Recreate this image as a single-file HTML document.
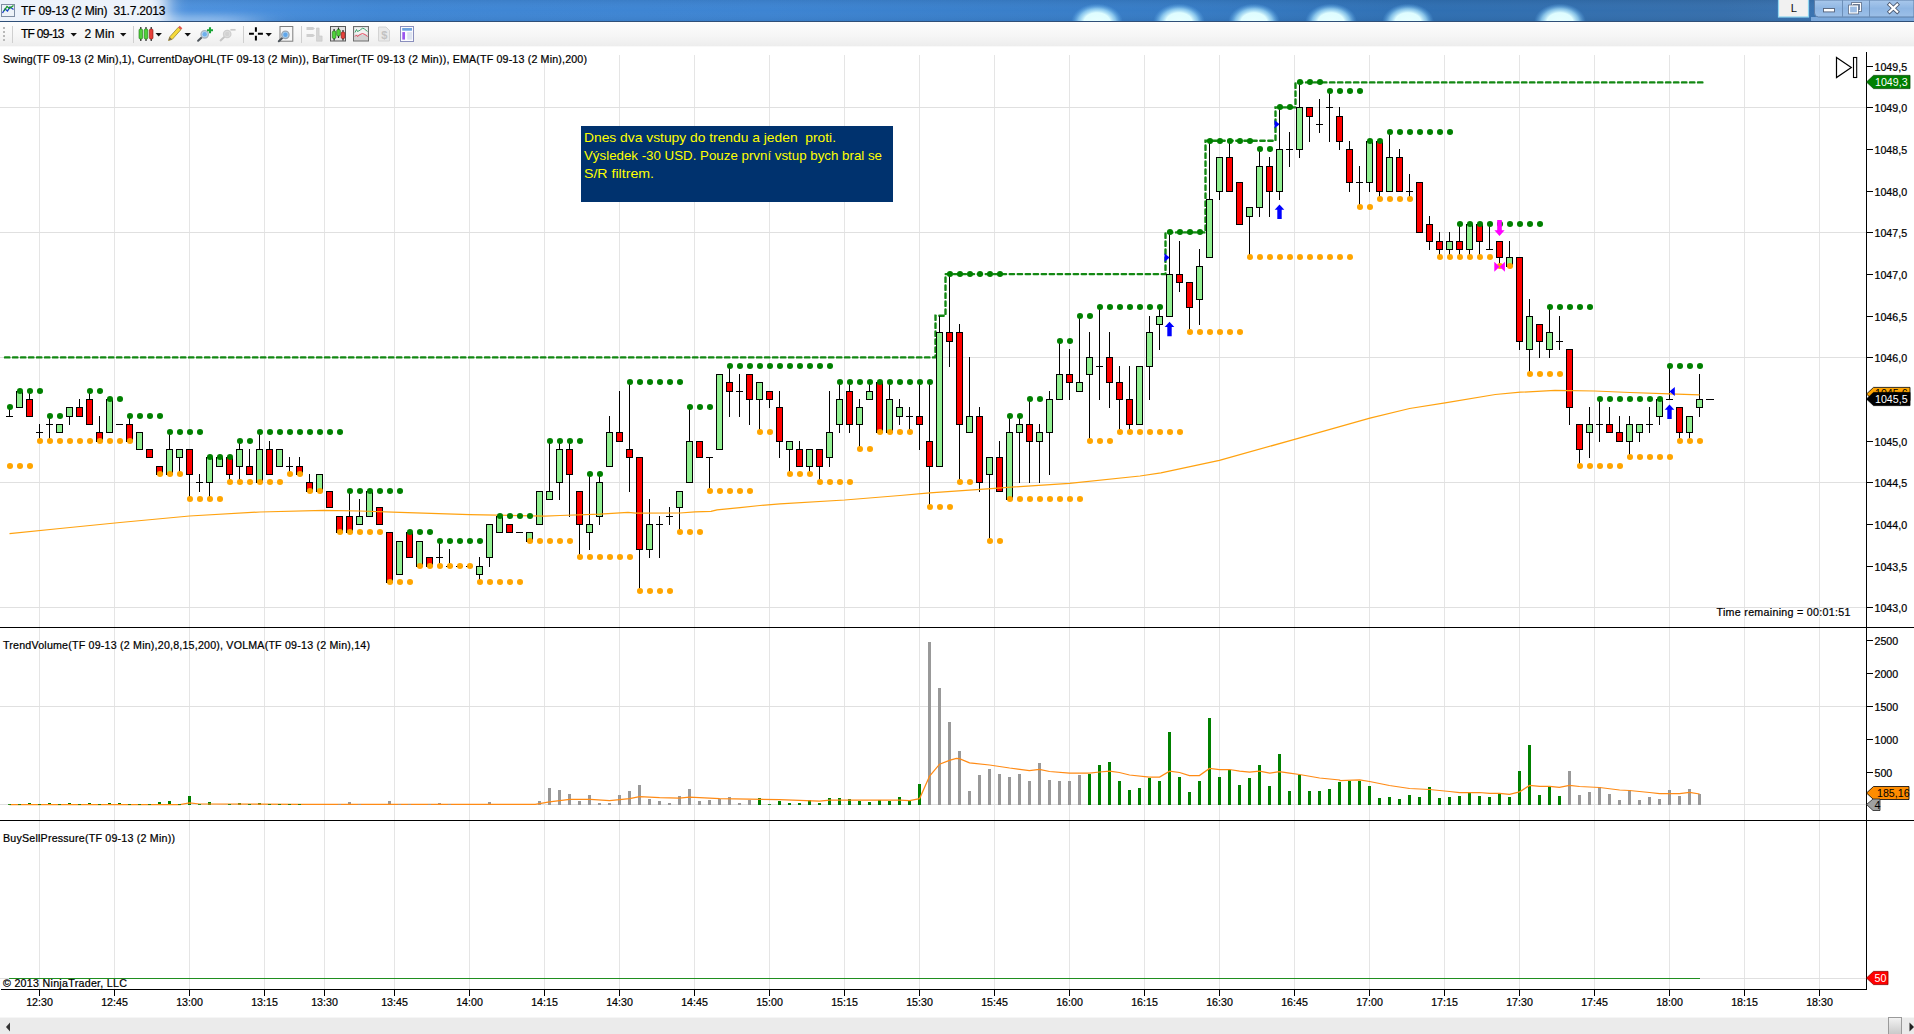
<!DOCTYPE html>
<html lang="cs"><head><meta charset="utf-8"><title>TF 09-13 (2 Min) 31.7.2013</title>
<style>
html,body{margin:0;padding:0;background:#fff;overflow:hidden}
body{width:1914px;height:1034px;position:relative;font-family:"Liberation Sans",Arial,sans-serif}
svg{display:block}
text{white-space:pre}
</style></head><body>
<svg width="1914" height="1034" viewBox="0 0 1914 1034" style="position:absolute;left:0;top:0">
<defs>
<linearGradient id="tb" x1="0" y1="0" x2="1" y2="0">
<stop offset="0" stop-color="#5a9be2"/><stop offset="0.12" stop-color="#4a8fdc"/><stop offset="0.2" stop-color="#4087d5"/><stop offset="0.40" stop-color="#3d84d2"/>
<stop offset="0.62" stop-color="#367bc4"/><stop offset="0.75" stop-color="#2f6fb2"/><stop offset="0.9" stop-color="#366fac"/><stop offset="1" stop-color="#3d77b5"/>
</linearGradient>
<filter id="blur" x="-50%" y="-100%" width="200%" height="300%"><feGaussianBlur stdDeviation="10 4"/></filter>
<filter id="blur2" x="-50%" y="-200%" width="200%" height="500%"><feGaussianBlur stdDeviation="22 3"/></filter>
<linearGradient id="tbv" x1="0" y1="0" x2="0" y2="1">
<stop offset="0" stop-color="#000" stop-opacity="0.06"/><stop offset="0.5" stop-color="#fff" stop-opacity="0.0"/><stop offset="1" stop-color="#000" stop-opacity="0.05"/>
</linearGradient>
<radialGradient id="glow" cx="0.5" cy="0.5" r="0.5">
<stop offset="0" stop-color="#e8ffff" stop-opacity="1"/><stop offset="0.5" stop-color="#dffdff" stop-opacity="1"/><stop offset="0.72" stop-color="#a8e2fc" stop-opacity="0.7"/><stop offset="1" stop-color="#5aa8ea" stop-opacity="0"/>
</radialGradient>
<linearGradient id="tool" x1="0" y1="0" x2="0" y2="1">
<stop offset="0" stop-color="#fdfdfd"/><stop offset="0.55" stop-color="#f6f6f6"/><stop offset="1" stop-color="#ececec"/>
</linearGradient>
<linearGradient id="btn" x1="0" y1="0" x2="0" y2="1">
<stop offset="0" stop-color="#a9c8ec"/><stop offset="0.5" stop-color="#8fb6e3"/><stop offset="1" stop-color="#9cc0e8"/>
</linearGradient>
<linearGradient id="sbt" x1="0" y1="0" x2="0" y2="1">
<stop offset="0" stop-color="#f4f4f4"/><stop offset="0.3" stop-color="#e6e6e6"/><stop offset="1" stop-color="#c9c9c9"/>
</linearGradient>
<clipPath id="tclip"><rect x="0" y="0" width="1914" height="21"/></clipPath>
</defs>
<rect x="0" y="0" width="1914" height="1034" fill="#fff"/>

<g shape-rendering="crispEdges" stroke="#e0e0e0" stroke-width="1">
<line x1="39.5" y1="55" x2="39.5" y2="989" stroke="#e5e5e5"/>
<line x1="114.5" y1="55" x2="114.5" y2="989" stroke="#e5e5e5"/>
<line x1="189.5" y1="55" x2="189.5" y2="989" stroke="#e5e5e5"/>
<line x1="264.5" y1="55" x2="264.5" y2="989" stroke="#e5e5e5"/>
<line x1="324.5" y1="55" x2="324.5" y2="989" stroke="#e5e5e5"/>
<line x1="394.5" y1="55" x2="394.5" y2="989" stroke="#e5e5e5"/>
<line x1="469.5" y1="55" x2="469.5" y2="989" stroke="#e5e5e5"/>
<line x1="544.5" y1="55" x2="544.5" y2="989" stroke="#e5e5e5"/>
<line x1="619.5" y1="55" x2="619.5" y2="989" stroke="#e5e5e5"/>
<line x1="694.5" y1="55" x2="694.5" y2="989" stroke="#e5e5e5"/>
<line x1="769.5" y1="55" x2="769.5" y2="989" stroke="#e5e5e5"/>
<line x1="844.5" y1="55" x2="844.5" y2="989" stroke="#e5e5e5"/>
<line x1="919.5" y1="55" x2="919.5" y2="989" stroke="#e5e5e5"/>
<line x1="994.5" y1="55" x2="994.5" y2="989" stroke="#e5e5e5"/>
<line x1="1069.5" y1="55" x2="1069.5" y2="989" stroke="#e5e5e5"/>
<line x1="1144.5" y1="55" x2="1144.5" y2="989" stroke="#e5e5e5"/>
<line x1="1219.5" y1="55" x2="1219.5" y2="989" stroke="#e5e5e5"/>
<line x1="1294.5" y1="55" x2="1294.5" y2="989" stroke="#e5e5e5"/>
<line x1="1369.5" y1="55" x2="1369.5" y2="989" stroke="#e5e5e5"/>
<line x1="1444.5" y1="55" x2="1444.5" y2="989" stroke="#e5e5e5"/>
<line x1="1519.5" y1="55" x2="1519.5" y2="989" stroke="#e5e5e5"/>
<line x1="1594.5" y1="55" x2="1594.5" y2="989" stroke="#e5e5e5"/>
<line x1="1669.5" y1="55" x2="1669.5" y2="989" stroke="#e5e5e5"/>
<line x1="1744.5" y1="55" x2="1744.5" y2="989" stroke="#e5e5e5"/>
<line x1="1819.5" y1="55" x2="1819.5" y2="989" stroke="#e5e5e5"/>
<line x1="0" y1="107.5" x2="1866" y2="107.5"/>
<line x1="0" y1="232.5" x2="1866" y2="232.5"/>
<line x1="0" y1="357.5" x2="1866" y2="357.5"/>
<line x1="0" y1="482.5" x2="1866" y2="482.5"/>
<line x1="0" y1="607.5" x2="1866" y2="607.5"/>
<line x1="0" y1="706.5" x2="1866" y2="706.5"/>
<line x1="0" y1="804.5" x2="1866" y2="804.5"/>
<line x1="0" y1="978.5" x2="1866" y2="978.5"/>
</g>
<path d="M5,357.4 L935.5,357.4 L935.5,315.7 L945.5,315.7 L945.5,274.1 L1165.5,274.1 L1165.5,232.4 L1205.5,232.4 L1205.5,140.7 L1275.5,140.7 L1275.5,107.4 L1295.5,107.4 L1295.5,82.4 L1705,82.4" fill="none" stroke="#138813" stroke-width="2.4" stroke-dasharray="4.4 3.6" stroke-linecap="round"/>
<g shape-rendering="crispEdges">
<rect x="9" y="407" width="1" height="10" fill="#000"/>
<rect x="6" y="416" width="7" height="1" fill="#000"/>
<rect x="19" y="391" width="1" height="17" fill="#000"/>
<rect x="16" y="391" width="7" height="17" fill="#000"/>
<rect x="17" y="392" width="5" height="15" fill="#90ee90"/>
<rect x="29" y="391" width="1" height="26" fill="#000"/>
<rect x="26" y="399" width="7" height="18" fill="#000"/>
<rect x="27" y="400" width="5" height="16" fill="#ff0000"/>
<rect x="39" y="424" width="1" height="18" fill="#000"/>
<rect x="36" y="432" width="7" height="1" fill="#000"/>
<rect x="49" y="416" width="1" height="26" fill="#000"/>
<rect x="46" y="424" width="7" height="1" fill="#000"/>
<rect x="59" y="424" width="1" height="9" fill="#000"/>
<rect x="56" y="424" width="7" height="9" fill="#000"/>
<rect x="57" y="425" width="5" height="7" fill="#90ee90"/>
<rect x="69" y="407" width="1" height="18" fill="#000"/>
<rect x="66" y="407" width="7" height="10" fill="#000"/>
<rect x="67" y="408" width="5" height="8" fill="#90ee90"/>
<rect x="79" y="399" width="1" height="18" fill="#000"/>
<rect x="76" y="407" width="7" height="10" fill="#000"/>
<rect x="77" y="408" width="5" height="8" fill="#ff0000"/>
<rect x="89" y="391" width="1" height="34" fill="#000"/>
<rect x="86" y="399" width="7" height="26" fill="#000"/>
<rect x="87" y="400" width="5" height="24" fill="#ff0000"/>
<rect x="99" y="416" width="1" height="26" fill="#000"/>
<rect x="96" y="432" width="7" height="10" fill="#000"/>
<rect x="97" y="433" width="5" height="8" fill="#ff0000"/>
<rect x="109" y="399" width="1" height="34" fill="#000"/>
<rect x="106" y="399" width="7" height="34" fill="#000"/>
<rect x="107" y="400" width="5" height="32" fill="#90ee90"/>
<rect x="116" y="424" width="7" height="1" fill="#000"/>
<rect x="129" y="416" width="1" height="26" fill="#000"/>
<rect x="126" y="424" width="7" height="18" fill="#000"/>
<rect x="127" y="425" width="5" height="16" fill="#ff0000"/>
<rect x="139" y="432" width="1" height="18" fill="#000"/>
<rect x="136" y="432" width="7" height="18" fill="#000"/>
<rect x="137" y="433" width="5" height="16" fill="#90ee90"/>
<rect x="149" y="449" width="1" height="9" fill="#000"/>
<rect x="146" y="449" width="7" height="9" fill="#000"/>
<rect x="147" y="450" width="5" height="7" fill="#ff0000"/>
<rect x="159" y="466" width="1" height="9" fill="#000"/>
<rect x="156" y="466" width="7" height="9" fill="#000"/>
<rect x="157" y="467" width="5" height="7" fill="#ff0000"/>
<rect x="169" y="432" width="1" height="43" fill="#000"/>
<rect x="166" y="449" width="7" height="26" fill="#000"/>
<rect x="167" y="450" width="5" height="24" fill="#90ee90"/>
<rect x="179" y="449" width="1" height="26" fill="#000"/>
<rect x="176" y="449" width="7" height="9" fill="#000"/>
<rect x="177" y="450" width="5" height="7" fill="#90ee90"/>
<rect x="189" y="449" width="1" height="51" fill="#000"/>
<rect x="186" y="449" width="7" height="26" fill="#000"/>
<rect x="187" y="450" width="5" height="24" fill="#ff0000"/>
<rect x="199" y="474" width="1" height="18" fill="#000"/>
<rect x="196" y="482" width="7" height="1" fill="#000"/>
<rect x="209" y="457" width="1" height="43" fill="#000"/>
<rect x="206" y="457" width="7" height="26" fill="#000"/>
<rect x="207" y="458" width="5" height="24" fill="#90ee90"/>
<rect x="219" y="457" width="1" height="10" fill="#000"/>
<rect x="216" y="457" width="7" height="10" fill="#000"/>
<rect x="217" y="458" width="5" height="8" fill="#90ee90"/>
<rect x="229" y="457" width="1" height="26" fill="#000"/>
<rect x="226" y="457" width="7" height="18" fill="#000"/>
<rect x="227" y="458" width="5" height="16" fill="#ff0000"/>
<rect x="239" y="441" width="1" height="42" fill="#000"/>
<rect x="236" y="449" width="7" height="18" fill="#000"/>
<rect x="237" y="450" width="5" height="16" fill="#90ee90"/>
<rect x="249" y="449" width="1" height="26" fill="#000"/>
<rect x="246" y="466" width="7" height="9" fill="#000"/>
<rect x="247" y="467" width="5" height="7" fill="#ff0000"/>
<rect x="259" y="432" width="1" height="51" fill="#000"/>
<rect x="256" y="449" width="7" height="34" fill="#000"/>
<rect x="257" y="450" width="5" height="32" fill="#90ee90"/>
<rect x="269" y="441" width="1" height="34" fill="#000"/>
<rect x="266" y="449" width="7" height="26" fill="#000"/>
<rect x="267" y="450" width="5" height="24" fill="#ff0000"/>
<rect x="279" y="449" width="1" height="18" fill="#000"/>
<rect x="276" y="449" width="7" height="18" fill="#000"/>
<rect x="277" y="450" width="5" height="16" fill="#90ee90"/>
<rect x="289" y="457" width="1" height="18" fill="#000"/>
<rect x="286" y="466" width="7" height="1" fill="#000"/>
<rect x="299" y="457" width="1" height="18" fill="#000"/>
<rect x="296" y="466" width="7" height="9" fill="#000"/>
<rect x="297" y="467" width="5" height="7" fill="#ff0000"/>
<rect x="309" y="474" width="1" height="18" fill="#000"/>
<rect x="306" y="482" width="7" height="10" fill="#000"/>
<rect x="307" y="483" width="5" height="8" fill="#ff0000"/>
<rect x="319" y="474" width="1" height="18" fill="#000"/>
<rect x="316" y="474" width="7" height="18" fill="#000"/>
<rect x="317" y="475" width="5" height="16" fill="#90ee90"/>
<rect x="329" y="491" width="1" height="17" fill="#000"/>
<rect x="326" y="491" width="7" height="17" fill="#000"/>
<rect x="327" y="492" width="5" height="15" fill="#ff0000"/>
<rect x="339" y="516" width="1" height="17" fill="#000"/>
<rect x="336" y="516" width="7" height="17" fill="#000"/>
<rect x="337" y="517" width="5" height="15" fill="#ff0000"/>
<rect x="349" y="491" width="1" height="42" fill="#000"/>
<rect x="346" y="516" width="7" height="17" fill="#000"/>
<rect x="347" y="517" width="5" height="15" fill="#ff0000"/>
<rect x="359" y="499" width="1" height="26" fill="#000"/>
<rect x="356" y="516" width="7" height="9" fill="#000"/>
<rect x="357" y="517" width="5" height="7" fill="#90ee90"/>
<rect x="369" y="491" width="1" height="26" fill="#000"/>
<rect x="366" y="491" width="7" height="26" fill="#000"/>
<rect x="367" y="492" width="5" height="24" fill="#90ee90"/>
<rect x="379" y="507" width="1" height="18" fill="#000"/>
<rect x="376" y="507" width="7" height="18" fill="#000"/>
<rect x="377" y="508" width="5" height="16" fill="#ff0000"/>
<rect x="389" y="532" width="1" height="51" fill="#000"/>
<rect x="386" y="532" width="7" height="51" fill="#000"/>
<rect x="387" y="533" width="5" height="49" fill="#ff0000"/>
<rect x="399" y="541" width="1" height="34" fill="#000"/>
<rect x="396" y="541" width="7" height="34" fill="#000"/>
<rect x="397" y="542" width="5" height="32" fill="#90ee90"/>
<rect x="409" y="532" width="1" height="26" fill="#000"/>
<rect x="406" y="532" width="7" height="26" fill="#000"/>
<rect x="407" y="533" width="5" height="24" fill="#ff0000"/>
<rect x="419" y="541" width="1" height="26" fill="#000"/>
<rect x="416" y="541" width="7" height="26" fill="#000"/>
<rect x="417" y="542" width="5" height="24" fill="#90ee90"/>
<rect x="429" y="557" width="1" height="10" fill="#000"/>
<rect x="426" y="557" width="7" height="10" fill="#000"/>
<rect x="427" y="558" width="5" height="8" fill="#ff0000"/>
<rect x="439" y="541" width="1" height="26" fill="#000"/>
<rect x="436" y="557" width="7" height="1" fill="#000"/>
<rect x="449" y="549" width="1" height="18" fill="#000"/>
<rect x="446" y="566" width="7" height="1" fill="#000"/>
<rect x="456" y="566" width="7" height="1" fill="#000"/>
<rect x="466" y="566" width="7" height="1" fill="#000"/>
<rect x="479" y="557" width="1" height="26" fill="#000"/>
<rect x="476" y="566" width="7" height="9" fill="#000"/>
<rect x="477" y="567" width="5" height="7" fill="#90ee90"/>
<rect x="489" y="524" width="1" height="43" fill="#000"/>
<rect x="486" y="524" width="7" height="34" fill="#000"/>
<rect x="487" y="525" width="5" height="32" fill="#90ee90"/>
<rect x="499" y="516" width="1" height="17" fill="#000"/>
<rect x="496" y="516" width="7" height="17" fill="#000"/>
<rect x="497" y="517" width="5" height="15" fill="#90ee90"/>
<rect x="509" y="524" width="1" height="9" fill="#000"/>
<rect x="506" y="524" width="7" height="9" fill="#000"/>
<rect x="507" y="525" width="5" height="7" fill="#ff0000"/>
<rect x="516" y="532" width="7" height="1" fill="#000"/>
<rect x="529" y="532" width="1" height="10" fill="#000"/>
<rect x="526" y="532" width="7" height="10" fill="#000"/>
<rect x="527" y="533" width="5" height="8" fill="#90ee90"/>
<rect x="539" y="491" width="1" height="34" fill="#000"/>
<rect x="536" y="491" width="7" height="34" fill="#000"/>
<rect x="537" y="492" width="5" height="32" fill="#90ee90"/>
<rect x="549" y="441" width="1" height="59" fill="#000"/>
<rect x="546" y="491" width="7" height="9" fill="#000"/>
<rect x="547" y="492" width="5" height="7" fill="#90ee90"/>
<rect x="559" y="441" width="1" height="59" fill="#000"/>
<rect x="556" y="449" width="7" height="34" fill="#000"/>
<rect x="557" y="450" width="5" height="32" fill="#90ee90"/>
<rect x="569" y="441" width="1" height="76" fill="#000"/>
<rect x="566" y="449" width="7" height="26" fill="#000"/>
<rect x="567" y="450" width="5" height="24" fill="#ff0000"/>
<rect x="579" y="491" width="1" height="67" fill="#000"/>
<rect x="576" y="491" width="7" height="34" fill="#000"/>
<rect x="577" y="492" width="5" height="32" fill="#ff0000"/>
<rect x="589" y="474" width="1" height="76" fill="#000"/>
<rect x="586" y="524" width="7" height="9" fill="#000"/>
<rect x="587" y="525" width="5" height="7" fill="#90ee90"/>
<rect x="599" y="474" width="1" height="51" fill="#000"/>
<rect x="596" y="482" width="7" height="35" fill="#000"/>
<rect x="597" y="483" width="5" height="33" fill="#90ee90"/>
<rect x="609" y="416" width="1" height="51" fill="#000"/>
<rect x="606" y="432" width="7" height="35" fill="#000"/>
<rect x="607" y="433" width="5" height="33" fill="#90ee90"/>
<rect x="619" y="391" width="1" height="51" fill="#000"/>
<rect x="616" y="432" width="7" height="10" fill="#000"/>
<rect x="617" y="433" width="5" height="8" fill="#ff0000"/>
<rect x="629" y="382" width="1" height="110" fill="#000"/>
<rect x="626" y="449" width="7" height="9" fill="#000"/>
<rect x="627" y="450" width="5" height="7" fill="#ff0000"/>
<rect x="639" y="457" width="1" height="135" fill="#000"/>
<rect x="636" y="457" width="7" height="93" fill="#000"/>
<rect x="637" y="458" width="5" height="91" fill="#ff0000"/>
<rect x="649" y="499" width="1" height="59" fill="#000"/>
<rect x="646" y="524" width="7" height="26" fill="#000"/>
<rect x="647" y="525" width="5" height="24" fill="#90ee90"/>
<rect x="659" y="516" width="1" height="42" fill="#000"/>
<rect x="656" y="524" width="7" height="1" fill="#000"/>
<rect x="669" y="507" width="1" height="18" fill="#000"/>
<rect x="666" y="516" width="7" height="1" fill="#000"/>
<rect x="679" y="491" width="1" height="42" fill="#000"/>
<rect x="676" y="491" width="7" height="17" fill="#000"/>
<rect x="677" y="492" width="5" height="15" fill="#90ee90"/>
<rect x="689" y="407" width="1" height="76" fill="#000"/>
<rect x="686" y="441" width="7" height="42" fill="#000"/>
<rect x="687" y="442" width="5" height="40" fill="#90ee90"/>
<rect x="699" y="441" width="1" height="17" fill="#000"/>
<rect x="696" y="441" width="7" height="17" fill="#000"/>
<rect x="697" y="442" width="5" height="15" fill="#ff0000"/>
<rect x="709" y="457" width="1" height="35" fill="#000"/>
<rect x="706" y="457" width="7" height="1" fill="#000"/>
<rect x="719" y="374" width="1" height="76" fill="#000"/>
<rect x="716" y="374" width="7" height="76" fill="#000"/>
<rect x="717" y="375" width="5" height="74" fill="#90ee90"/>
<rect x="729" y="366" width="1" height="51" fill="#000"/>
<rect x="726" y="382" width="7" height="10" fill="#000"/>
<rect x="727" y="383" width="5" height="8" fill="#ff0000"/>
<rect x="739" y="374" width="1" height="43" fill="#000"/>
<rect x="736" y="391" width="7" height="1" fill="#000"/>
<rect x="749" y="374" width="1" height="51" fill="#000"/>
<rect x="746" y="374" width="7" height="26" fill="#000"/>
<rect x="747" y="375" width="5" height="24" fill="#ff0000"/>
<rect x="759" y="382" width="1" height="51" fill="#000"/>
<rect x="756" y="382" width="7" height="18" fill="#000"/>
<rect x="757" y="383" width="5" height="16" fill="#90ee90"/>
<rect x="769" y="391" width="1" height="17" fill="#000"/>
<rect x="766" y="391" width="7" height="9" fill="#000"/>
<rect x="767" y="392" width="5" height="7" fill="#ff0000"/>
<rect x="779" y="391" width="1" height="67" fill="#000"/>
<rect x="776" y="407" width="7" height="35" fill="#000"/>
<rect x="777" y="408" width="5" height="33" fill="#ff0000"/>
<rect x="789" y="441" width="1" height="34" fill="#000"/>
<rect x="786" y="441" width="7" height="9" fill="#000"/>
<rect x="787" y="442" width="5" height="7" fill="#90ee90"/>
<rect x="799" y="441" width="1" height="26" fill="#000"/>
<rect x="796" y="449" width="7" height="18" fill="#000"/>
<rect x="797" y="450" width="5" height="16" fill="#ff0000"/>
<rect x="809" y="449" width="1" height="26" fill="#000"/>
<rect x="806" y="449" width="7" height="18" fill="#000"/>
<rect x="807" y="450" width="5" height="16" fill="#90ee90"/>
<rect x="819" y="449" width="1" height="34" fill="#000"/>
<rect x="816" y="449" width="7" height="18" fill="#000"/>
<rect x="817" y="450" width="5" height="16" fill="#ff0000"/>
<rect x="829" y="391" width="1" height="76" fill="#000"/>
<rect x="826" y="432" width="7" height="26" fill="#000"/>
<rect x="827" y="433" width="5" height="24" fill="#90ee90"/>
<rect x="839" y="382" width="1" height="51" fill="#000"/>
<rect x="836" y="399" width="7" height="26" fill="#000"/>
<rect x="837" y="400" width="5" height="24" fill="#90ee90"/>
<rect x="849" y="382" width="1" height="51" fill="#000"/>
<rect x="846" y="391" width="7" height="34" fill="#000"/>
<rect x="847" y="392" width="5" height="32" fill="#ff0000"/>
<rect x="859" y="399" width="1" height="51" fill="#000"/>
<rect x="856" y="407" width="7" height="18" fill="#000"/>
<rect x="857" y="408" width="5" height="16" fill="#90ee90"/>
<rect x="869" y="382" width="1" height="18" fill="#000"/>
<rect x="866" y="391" width="7" height="9" fill="#000"/>
<rect x="867" y="392" width="5" height="7" fill="#90ee90"/>
<rect x="879" y="382" width="1" height="51" fill="#000"/>
<rect x="876" y="382" width="7" height="51" fill="#000"/>
<rect x="877" y="383" width="5" height="49" fill="#ff0000"/>
<rect x="889" y="382" width="1" height="51" fill="#000"/>
<rect x="886" y="399" width="7" height="34" fill="#000"/>
<rect x="887" y="400" width="5" height="32" fill="#90ee90"/>
<rect x="899" y="399" width="1" height="26" fill="#000"/>
<rect x="896" y="407" width="7" height="10" fill="#000"/>
<rect x="897" y="408" width="5" height="8" fill="#90ee90"/>
<rect x="909" y="407" width="1" height="26" fill="#000"/>
<rect x="906" y="416" width="7" height="1" fill="#000"/>
<rect x="919" y="382" width="1" height="68" fill="#000"/>
<rect x="916" y="416" width="7" height="9" fill="#000"/>
<rect x="917" y="417" width="5" height="7" fill="#ff0000"/>
<rect x="929" y="382" width="1" height="126" fill="#000"/>
<rect x="926" y="441" width="7" height="26" fill="#000"/>
<rect x="927" y="442" width="5" height="24" fill="#ff0000"/>
<rect x="939" y="316" width="1" height="151" fill="#000"/>
<rect x="936" y="332" width="7" height="135" fill="#000"/>
<rect x="937" y="333" width="5" height="133" fill="#90ee90"/>
<rect x="949" y="274" width="1" height="93" fill="#000"/>
<rect x="946" y="332" width="7" height="10" fill="#000"/>
<rect x="947" y="333" width="5" height="8" fill="#ff0000"/>
<rect x="959" y="324" width="1" height="159" fill="#000"/>
<rect x="956" y="332" width="7" height="93" fill="#000"/>
<rect x="957" y="333" width="5" height="91" fill="#ff0000"/>
<rect x="969" y="357" width="1" height="76" fill="#000"/>
<rect x="966" y="416" width="7" height="17" fill="#000"/>
<rect x="967" y="417" width="5" height="15" fill="#90ee90"/>
<rect x="979" y="407" width="1" height="85" fill="#000"/>
<rect x="976" y="416" width="7" height="67" fill="#000"/>
<rect x="977" y="417" width="5" height="65" fill="#ff0000"/>
<rect x="989" y="457" width="1" height="85" fill="#000"/>
<rect x="986" y="457" width="7" height="18" fill="#000"/>
<rect x="987" y="458" width="5" height="16" fill="#90ee90"/>
<rect x="999" y="441" width="1" height="51" fill="#000"/>
<rect x="996" y="457" width="7" height="35" fill="#000"/>
<rect x="997" y="458" width="5" height="33" fill="#ff0000"/>
<rect x="1009" y="416" width="1" height="84" fill="#000"/>
<rect x="1006" y="432" width="7" height="68" fill="#000"/>
<rect x="1007" y="433" width="5" height="66" fill="#90ee90"/>
<rect x="1019" y="416" width="1" height="67" fill="#000"/>
<rect x="1016" y="424" width="7" height="9" fill="#000"/>
<rect x="1017" y="425" width="5" height="7" fill="#90ee90"/>
<rect x="1029" y="399" width="1" height="84" fill="#000"/>
<rect x="1026" y="424" width="7" height="18" fill="#000"/>
<rect x="1027" y="425" width="5" height="16" fill="#ff0000"/>
<rect x="1039" y="424" width="1" height="59" fill="#000"/>
<rect x="1036" y="432" width="7" height="10" fill="#000"/>
<rect x="1037" y="433" width="5" height="8" fill="#90ee90"/>
<rect x="1049" y="391" width="1" height="84" fill="#000"/>
<rect x="1046" y="399" width="7" height="34" fill="#000"/>
<rect x="1047" y="400" width="5" height="32" fill="#90ee90"/>
<rect x="1059" y="341" width="1" height="59" fill="#000"/>
<rect x="1056" y="374" width="7" height="26" fill="#000"/>
<rect x="1057" y="375" width="5" height="24" fill="#90ee90"/>
<rect x="1069" y="349" width="1" height="51" fill="#000"/>
<rect x="1066" y="374" width="7" height="9" fill="#000"/>
<rect x="1067" y="375" width="5" height="7" fill="#ff0000"/>
<rect x="1079" y="316" width="1" height="76" fill="#000"/>
<rect x="1076" y="382" width="7" height="10" fill="#000"/>
<rect x="1077" y="383" width="5" height="8" fill="#90ee90"/>
<rect x="1089" y="332" width="1" height="110" fill="#000"/>
<rect x="1086" y="357" width="7" height="18" fill="#000"/>
<rect x="1087" y="358" width="5" height="16" fill="#90ee90"/>
<rect x="1099" y="307" width="1" height="93" fill="#000"/>
<rect x="1096" y="366" width="7" height="1" fill="#000"/>
<rect x="1109" y="332" width="1" height="76" fill="#000"/>
<rect x="1106" y="357" width="7" height="26" fill="#000"/>
<rect x="1107" y="358" width="5" height="24" fill="#ff0000"/>
<rect x="1119" y="366" width="1" height="67" fill="#000"/>
<rect x="1116" y="382" width="7" height="18" fill="#000"/>
<rect x="1117" y="383" width="5" height="16" fill="#ff0000"/>
<rect x="1129" y="366" width="1" height="67" fill="#000"/>
<rect x="1126" y="399" width="7" height="26" fill="#000"/>
<rect x="1127" y="400" width="5" height="24" fill="#ff0000"/>
<rect x="1139" y="366" width="1" height="59" fill="#000"/>
<rect x="1136" y="366" width="7" height="59" fill="#000"/>
<rect x="1137" y="367" width="5" height="57" fill="#90ee90"/>
<rect x="1149" y="316" width="1" height="84" fill="#000"/>
<rect x="1146" y="332" width="7" height="35" fill="#000"/>
<rect x="1147" y="333" width="5" height="33" fill="#90ee90"/>
<rect x="1159" y="307" width="1" height="43" fill="#000"/>
<rect x="1156" y="316" width="7" height="9" fill="#000"/>
<rect x="1157" y="317" width="5" height="7" fill="#90ee90"/>
<rect x="1169" y="232" width="1" height="85" fill="#000"/>
<rect x="1166" y="274" width="7" height="43" fill="#000"/>
<rect x="1167" y="275" width="5" height="41" fill="#90ee90"/>
<rect x="1179" y="241" width="1" height="51" fill="#000"/>
<rect x="1176" y="274" width="7" height="9" fill="#000"/>
<rect x="1177" y="275" width="5" height="7" fill="#ff0000"/>
<rect x="1189" y="282" width="1" height="51" fill="#000"/>
<rect x="1186" y="282" width="7" height="26" fill="#000"/>
<rect x="1187" y="283" width="5" height="24" fill="#ff0000"/>
<rect x="1199" y="249" width="1" height="76" fill="#000"/>
<rect x="1196" y="266" width="7" height="34" fill="#000"/>
<rect x="1197" y="267" width="5" height="32" fill="#90ee90"/>
<rect x="1209" y="141" width="1" height="117" fill="#000"/>
<rect x="1206" y="199" width="7" height="59" fill="#000"/>
<rect x="1207" y="200" width="5" height="57" fill="#90ee90"/>
<rect x="1219" y="157" width="1" height="43" fill="#000"/>
<rect x="1216" y="157" width="7" height="35" fill="#000"/>
<rect x="1217" y="158" width="5" height="33" fill="#90ee90"/>
<rect x="1229" y="141" width="1" height="51" fill="#000"/>
<rect x="1226" y="157" width="7" height="35" fill="#000"/>
<rect x="1227" y="158" width="5" height="33" fill="#ff0000"/>
<rect x="1239" y="182" width="1" height="43" fill="#000"/>
<rect x="1236" y="182" width="7" height="43" fill="#000"/>
<rect x="1237" y="183" width="5" height="41" fill="#ff0000"/>
<rect x="1249" y="207" width="1" height="51" fill="#000"/>
<rect x="1246" y="207" width="7" height="10" fill="#000"/>
<rect x="1247" y="208" width="5" height="8" fill="#90ee90"/>
<rect x="1259" y="149" width="1" height="68" fill="#000"/>
<rect x="1256" y="166" width="7" height="42" fill="#000"/>
<rect x="1257" y="167" width="5" height="40" fill="#90ee90"/>
<rect x="1269" y="157" width="1" height="60" fill="#000"/>
<rect x="1266" y="166" width="7" height="26" fill="#000"/>
<rect x="1267" y="167" width="5" height="24" fill="#ff0000"/>
<rect x="1279" y="107" width="1" height="93" fill="#000"/>
<rect x="1276" y="149" width="7" height="43" fill="#000"/>
<rect x="1277" y="150" width="5" height="41" fill="#90ee90"/>
<rect x="1289" y="132" width="1" height="35" fill="#000"/>
<rect x="1286" y="149" width="7" height="1" fill="#000"/>
<rect x="1299" y="82" width="1" height="76" fill="#000"/>
<rect x="1296" y="107" width="7" height="43" fill="#000"/>
<rect x="1297" y="108" width="5" height="41" fill="#90ee90"/>
<rect x="1309" y="107" width="1" height="35" fill="#000"/>
<rect x="1306" y="107" width="7" height="10" fill="#000"/>
<rect x="1307" y="108" width="5" height="8" fill="#ff0000"/>
<rect x="1319" y="99" width="1" height="34" fill="#000"/>
<rect x="1316" y="124" width="7" height="1" fill="#000"/>
<rect x="1329" y="91" width="1" height="51" fill="#000"/>
<rect x="1326" y="107" width="7" height="1" fill="#000"/>
<rect x="1339" y="107" width="1" height="43" fill="#000"/>
<rect x="1336" y="116" width="7" height="26" fill="#000"/>
<rect x="1337" y="117" width="5" height="24" fill="#ff0000"/>
<rect x="1349" y="141" width="1" height="51" fill="#000"/>
<rect x="1346" y="149" width="7" height="34" fill="#000"/>
<rect x="1347" y="150" width="5" height="32" fill="#ff0000"/>
<rect x="1359" y="166" width="1" height="42" fill="#000"/>
<rect x="1356" y="182" width="7" height="1" fill="#000"/>
<rect x="1369" y="141" width="1" height="51" fill="#000"/>
<rect x="1366" y="141" width="7" height="42" fill="#000"/>
<rect x="1367" y="142" width="5" height="40" fill="#90ee90"/>
<rect x="1379" y="141" width="1" height="59" fill="#000"/>
<rect x="1376" y="141" width="7" height="51" fill="#000"/>
<rect x="1377" y="142" width="5" height="49" fill="#ff0000"/>
<rect x="1389" y="132" width="1" height="60" fill="#000"/>
<rect x="1386" y="157" width="7" height="35" fill="#000"/>
<rect x="1387" y="158" width="5" height="33" fill="#90ee90"/>
<rect x="1399" y="149" width="1" height="43" fill="#000"/>
<rect x="1396" y="157" width="7" height="35" fill="#000"/>
<rect x="1397" y="158" width="5" height="33" fill="#ff0000"/>
<rect x="1409" y="174" width="1" height="26" fill="#000"/>
<rect x="1406" y="191" width="7" height="1" fill="#000"/>
<rect x="1419" y="182" width="1" height="51" fill="#000"/>
<rect x="1416" y="182" width="7" height="51" fill="#000"/>
<rect x="1417" y="183" width="5" height="49" fill="#ff0000"/>
<rect x="1429" y="216" width="1" height="34" fill="#000"/>
<rect x="1426" y="224" width="7" height="18" fill="#000"/>
<rect x="1427" y="225" width="5" height="16" fill="#ff0000"/>
<rect x="1439" y="232" width="1" height="26" fill="#000"/>
<rect x="1436" y="241" width="7" height="9" fill="#000"/>
<rect x="1437" y="242" width="5" height="7" fill="#ff0000"/>
<rect x="1449" y="232" width="1" height="26" fill="#000"/>
<rect x="1446" y="241" width="7" height="9" fill="#000"/>
<rect x="1447" y="242" width="5" height="7" fill="#90ee90"/>
<rect x="1459" y="224" width="1" height="34" fill="#000"/>
<rect x="1456" y="241" width="7" height="9" fill="#000"/>
<rect x="1457" y="242" width="5" height="7" fill="#ff0000"/>
<rect x="1469" y="224" width="1" height="34" fill="#000"/>
<rect x="1466" y="224" width="7" height="26" fill="#000"/>
<rect x="1467" y="225" width="5" height="24" fill="#90ee90"/>
<rect x="1479" y="224" width="1" height="34" fill="#000"/>
<rect x="1476" y="224" width="7" height="18" fill="#000"/>
<rect x="1477" y="225" width="5" height="16" fill="#ff0000"/>
<rect x="1489" y="224" width="1" height="26" fill="#000"/>
<rect x="1486" y="249" width="7" height="1" fill="#000"/>
<rect x="1499" y="241" width="1" height="26" fill="#000"/>
<rect x="1496" y="241" width="7" height="17" fill="#000"/>
<rect x="1497" y="242" width="5" height="15" fill="#ff0000"/>
<rect x="1509" y="241" width="1" height="26" fill="#000"/>
<rect x="1506" y="257" width="7" height="10" fill="#000"/>
<rect x="1507" y="258" width="5" height="8" fill="#90ee90"/>
<rect x="1519" y="257" width="1" height="93" fill="#000"/>
<rect x="1516" y="257" width="7" height="85" fill="#000"/>
<rect x="1517" y="258" width="5" height="83" fill="#ff0000"/>
<rect x="1529" y="299" width="1" height="76" fill="#000"/>
<rect x="1526" y="316" width="7" height="34" fill="#000"/>
<rect x="1527" y="317" width="5" height="32" fill="#90ee90"/>
<rect x="1539" y="324" width="1" height="34" fill="#000"/>
<rect x="1536" y="324" width="7" height="18" fill="#000"/>
<rect x="1537" y="325" width="5" height="16" fill="#ff0000"/>
<rect x="1549" y="307" width="1" height="51" fill="#000"/>
<rect x="1546" y="332" width="7" height="18" fill="#000"/>
<rect x="1547" y="333" width="5" height="16" fill="#90ee90"/>
<rect x="1559" y="316" width="1" height="34" fill="#000"/>
<rect x="1556" y="341" width="7" height="1" fill="#000"/>
<rect x="1569" y="349" width="1" height="76" fill="#000"/>
<rect x="1566" y="349" width="7" height="59" fill="#000"/>
<rect x="1567" y="350" width="5" height="57" fill="#ff0000"/>
<rect x="1579" y="424" width="1" height="43" fill="#000"/>
<rect x="1576" y="424" width="7" height="26" fill="#000"/>
<rect x="1577" y="425" width="5" height="24" fill="#ff0000"/>
<rect x="1589" y="407" width="1" height="51" fill="#000"/>
<rect x="1586" y="424" width="7" height="9" fill="#000"/>
<rect x="1587" y="425" width="5" height="7" fill="#90ee90"/>
<rect x="1599" y="399" width="1" height="43" fill="#000"/>
<rect x="1596" y="424" width="7" height="1" fill="#000"/>
<rect x="1609" y="407" width="1" height="26" fill="#000"/>
<rect x="1606" y="424" width="7" height="9" fill="#000"/>
<rect x="1607" y="425" width="5" height="7" fill="#ff0000"/>
<rect x="1619" y="416" width="1" height="26" fill="#000"/>
<rect x="1616" y="432" width="7" height="10" fill="#000"/>
<rect x="1617" y="433" width="5" height="8" fill="#ff0000"/>
<rect x="1629" y="416" width="1" height="42" fill="#000"/>
<rect x="1626" y="424" width="7" height="18" fill="#000"/>
<rect x="1627" y="425" width="5" height="16" fill="#90ee90"/>
<rect x="1639" y="424" width="1" height="18" fill="#000"/>
<rect x="1636" y="424" width="7" height="9" fill="#000"/>
<rect x="1637" y="425" width="5" height="7" fill="#90ee90"/>
<rect x="1649" y="407" width="1" height="26" fill="#000"/>
<rect x="1646" y="424" width="7" height="1" fill="#000"/>
<rect x="1659" y="399" width="1" height="26" fill="#000"/>
<rect x="1656" y="399" width="7" height="18" fill="#000"/>
<rect x="1657" y="400" width="5" height="16" fill="#90ee90"/>
<rect x="1669" y="366" width="1" height="34" fill="#000"/>
<rect x="1666" y="399" width="7" height="1" fill="#000"/>
<rect x="1679" y="407" width="1" height="35" fill="#000"/>
<rect x="1676" y="407" width="7" height="26" fill="#000"/>
<rect x="1677" y="408" width="5" height="24" fill="#ff0000"/>
<rect x="1689" y="416" width="1" height="26" fill="#000"/>
<rect x="1686" y="416" width="7" height="17" fill="#000"/>
<rect x="1687" y="417" width="5" height="15" fill="#90ee90"/>
<rect x="1699" y="374" width="1" height="43" fill="#000"/>
<rect x="1696" y="399" width="7" height="9" fill="#000"/>
<rect x="1697" y="400" width="5" height="7" fill="#90ee90"/>
<rect x="1706" y="399" width="8" height="1" fill="#000"/>
</g>
<polyline points="9.5,533.6 60.0,528.5 120.0,522.5 189.5,516.0 260.0,512.0 324.0,510.5 360.0,511.0 400.0,512.3 469.7,514.7 544.7,516.0 560.0,515.5 600.0,514.2 628.0,512.4 636.0,513.1 680.0,513.0 695.0,511.8 711.0,511.3 717.0,509.8 740.0,507.6 760.0,505.5 780.0,503.8 844.7,500.0 900.0,495.5 929.7,492.9 994.6,488.3 1069.5,483.3 1140.0,476.0 1160.9,472.9 1219.4,460.3 1294.6,439.4 1369.9,418.1 1409.6,408.5 1445.1,402.8 1495.3,394.5 1520.4,392.2 1555.0,390.3 1594.6,391.0 1630.0,392.5 1669.6,393.8 1699.5,394.8" fill="none" stroke="#ffa20f" stroke-width="1.25"/>
<circle cx="10" cy="407" r="3.05" fill="#008000"/>
<circle cx="20" cy="391" r="3.05" fill="#008000"/>
<circle cx="30" cy="391" r="3.05" fill="#008000"/>
<circle cx="40" cy="391" r="3.05" fill="#008000"/>
<circle cx="50" cy="416" r="3.05" fill="#008000"/>
<circle cx="60" cy="416" r="3.05" fill="#008000"/>
<circle cx="90" cy="391" r="3.05" fill="#008000"/>
<circle cx="100" cy="391" r="3.05" fill="#008000"/>
<circle cx="110" cy="399" r="3.05" fill="#008000"/>
<circle cx="120" cy="399" r="3.05" fill="#008000"/>
<circle cx="130" cy="416" r="3.05" fill="#008000"/>
<circle cx="140" cy="416" r="3.05" fill="#008000"/>
<circle cx="150" cy="416" r="3.05" fill="#008000"/>
<circle cx="160" cy="416" r="3.05" fill="#008000"/>
<circle cx="170" cy="432" r="3.05" fill="#008000"/>
<circle cx="180" cy="432" r="3.05" fill="#008000"/>
<circle cx="190" cy="432" r="3.05" fill="#008000"/>
<circle cx="200" cy="432" r="3.05" fill="#008000"/>
<circle cx="210" cy="457" r="3.05" fill="#008000"/>
<circle cx="220" cy="457" r="3.05" fill="#008000"/>
<circle cx="230" cy="457" r="3.05" fill="#008000"/>
<circle cx="240" cy="441" r="3.05" fill="#008000"/>
<circle cx="250" cy="441" r="3.05" fill="#008000"/>
<circle cx="260" cy="432" r="3.05" fill="#008000"/>
<circle cx="270" cy="432" r="3.05" fill="#008000"/>
<circle cx="280" cy="432" r="3.05" fill="#008000"/>
<circle cx="290" cy="432" r="3.05" fill="#008000"/>
<circle cx="300" cy="432" r="3.05" fill="#008000"/>
<circle cx="310" cy="432" r="3.05" fill="#008000"/>
<circle cx="320" cy="432" r="3.05" fill="#008000"/>
<circle cx="330" cy="432" r="3.05" fill="#008000"/>
<circle cx="340" cy="432" r="3.05" fill="#008000"/>
<circle cx="350" cy="491" r="3.05" fill="#008000"/>
<circle cx="360" cy="491" r="3.05" fill="#008000"/>
<circle cx="370" cy="491" r="3.05" fill="#008000"/>
<circle cx="380" cy="491" r="3.05" fill="#008000"/>
<circle cx="390" cy="491" r="3.05" fill="#008000"/>
<circle cx="400" cy="491" r="3.05" fill="#008000"/>
<circle cx="410" cy="532" r="3.05" fill="#008000"/>
<circle cx="420" cy="532" r="3.05" fill="#008000"/>
<circle cx="430" cy="532" r="3.05" fill="#008000"/>
<circle cx="440" cy="541" r="3.05" fill="#008000"/>
<circle cx="450" cy="541" r="3.05" fill="#008000"/>
<circle cx="460" cy="541" r="3.05" fill="#008000"/>
<circle cx="470" cy="541" r="3.05" fill="#008000"/>
<circle cx="480" cy="541" r="3.05" fill="#008000"/>
<circle cx="500" cy="516" r="3.05" fill="#008000"/>
<circle cx="510" cy="516" r="3.05" fill="#008000"/>
<circle cx="520" cy="516" r="3.05" fill="#008000"/>
<circle cx="530" cy="516" r="3.05" fill="#008000"/>
<circle cx="550" cy="441" r="3.05" fill="#008000"/>
<circle cx="560" cy="441" r="3.05" fill="#008000"/>
<circle cx="570" cy="441" r="3.05" fill="#008000"/>
<circle cx="580" cy="441" r="3.05" fill="#008000"/>
<circle cx="590" cy="474" r="3.05" fill="#008000"/>
<circle cx="600" cy="474" r="3.05" fill="#008000"/>
<circle cx="630" cy="382" r="3.05" fill="#008000"/>
<circle cx="640" cy="382" r="3.05" fill="#008000"/>
<circle cx="650" cy="382" r="3.05" fill="#008000"/>
<circle cx="660" cy="382" r="3.05" fill="#008000"/>
<circle cx="670" cy="382" r="3.05" fill="#008000"/>
<circle cx="680" cy="382" r="3.05" fill="#008000"/>
<circle cx="690" cy="407" r="3.05" fill="#008000"/>
<circle cx="700" cy="407" r="3.05" fill="#008000"/>
<circle cx="710" cy="407" r="3.05" fill="#008000"/>
<circle cx="730" cy="366" r="3.05" fill="#008000"/>
<circle cx="740" cy="366" r="3.05" fill="#008000"/>
<circle cx="750" cy="366" r="3.05" fill="#008000"/>
<circle cx="760" cy="366" r="3.05" fill="#008000"/>
<circle cx="770" cy="366" r="3.05" fill="#008000"/>
<circle cx="780" cy="366" r="3.05" fill="#008000"/>
<circle cx="790" cy="366" r="3.05" fill="#008000"/>
<circle cx="800" cy="366" r="3.05" fill="#008000"/>
<circle cx="810" cy="366" r="3.05" fill="#008000"/>
<circle cx="820" cy="366" r="3.05" fill="#008000"/>
<circle cx="830" cy="366" r="3.05" fill="#008000"/>
<circle cx="840" cy="382" r="3.05" fill="#008000"/>
<circle cx="850" cy="382" r="3.05" fill="#008000"/>
<circle cx="860" cy="382" r="3.05" fill="#008000"/>
<circle cx="870" cy="382" r="3.05" fill="#008000"/>
<circle cx="880" cy="382" r="3.05" fill="#008000"/>
<circle cx="890" cy="382" r="3.05" fill="#008000"/>
<circle cx="900" cy="382" r="3.05" fill="#008000"/>
<circle cx="910" cy="382" r="3.05" fill="#008000"/>
<circle cx="920" cy="382" r="3.05" fill="#008000"/>
<circle cx="930" cy="382" r="3.05" fill="#008000"/>
<circle cx="950" cy="274" r="3.05" fill="#008000"/>
<circle cx="960" cy="274" r="3.05" fill="#008000"/>
<circle cx="970" cy="274" r="3.05" fill="#008000"/>
<circle cx="980" cy="274" r="3.05" fill="#008000"/>
<circle cx="990" cy="274" r="3.05" fill="#008000"/>
<circle cx="1000" cy="274" r="3.05" fill="#008000"/>
<circle cx="1010" cy="416" r="3.05" fill="#008000"/>
<circle cx="1020" cy="416" r="3.05" fill="#008000"/>
<circle cx="1030" cy="399" r="3.05" fill="#008000"/>
<circle cx="1040" cy="399" r="3.05" fill="#008000"/>
<circle cx="1060" cy="341" r="3.05" fill="#008000"/>
<circle cx="1070" cy="341" r="3.05" fill="#008000"/>
<circle cx="1080" cy="316" r="3.05" fill="#008000"/>
<circle cx="1090" cy="316" r="3.05" fill="#008000"/>
<circle cx="1100" cy="307" r="3.05" fill="#008000"/>
<circle cx="1110" cy="307" r="3.05" fill="#008000"/>
<circle cx="1120" cy="307" r="3.05" fill="#008000"/>
<circle cx="1130" cy="307" r="3.05" fill="#008000"/>
<circle cx="1140" cy="307" r="3.05" fill="#008000"/>
<circle cx="1150" cy="307" r="3.05" fill="#008000"/>
<circle cx="1160" cy="307" r="3.05" fill="#008000"/>
<circle cx="1170" cy="232" r="3.05" fill="#008000"/>
<circle cx="1180" cy="232" r="3.05" fill="#008000"/>
<circle cx="1190" cy="232" r="3.05" fill="#008000"/>
<circle cx="1200" cy="232" r="3.05" fill="#008000"/>
<circle cx="1210" cy="141" r="3.05" fill="#008000"/>
<circle cx="1220" cy="141" r="3.05" fill="#008000"/>
<circle cx="1230" cy="141" r="3.05" fill="#008000"/>
<circle cx="1240" cy="141" r="3.05" fill="#008000"/>
<circle cx="1250" cy="141" r="3.05" fill="#008000"/>
<circle cx="1260" cy="149" r="3.05" fill="#008000"/>
<circle cx="1270" cy="149" r="3.05" fill="#008000"/>
<circle cx="1280" cy="107" r="3.05" fill="#008000"/>
<circle cx="1290" cy="107" r="3.05" fill="#008000"/>
<circle cx="1300" cy="82" r="3.05" fill="#008000"/>
<circle cx="1310" cy="82" r="3.05" fill="#008000"/>
<circle cx="1320" cy="82" r="3.05" fill="#008000"/>
<circle cx="1330" cy="91" r="3.05" fill="#008000"/>
<circle cx="1340" cy="91" r="3.05" fill="#008000"/>
<circle cx="1350" cy="91" r="3.05" fill="#008000"/>
<circle cx="1360" cy="91" r="3.05" fill="#008000"/>
<circle cx="1370" cy="141" r="3.05" fill="#008000"/>
<circle cx="1380" cy="141" r="3.05" fill="#008000"/>
<circle cx="1390" cy="132" r="3.05" fill="#008000"/>
<circle cx="1400" cy="132" r="3.05" fill="#008000"/>
<circle cx="1410" cy="132" r="3.05" fill="#008000"/>
<circle cx="1420" cy="132" r="3.05" fill="#008000"/>
<circle cx="1430" cy="132" r="3.05" fill="#008000"/>
<circle cx="1440" cy="132" r="3.05" fill="#008000"/>
<circle cx="1450" cy="132" r="3.05" fill="#008000"/>
<circle cx="1460" cy="224" r="3.05" fill="#008000"/>
<circle cx="1470" cy="224" r="3.05" fill="#008000"/>
<circle cx="1480" cy="224" r="3.05" fill="#008000"/>
<circle cx="1490" cy="224" r="3.05" fill="#008000"/>
<circle cx="1500" cy="224" r="3.05" fill="#008000"/>
<circle cx="1510" cy="224" r="3.05" fill="#008000"/>
<circle cx="1520" cy="224" r="3.05" fill="#008000"/>
<circle cx="1530" cy="224" r="3.05" fill="#008000"/>
<circle cx="1540" cy="224" r="3.05" fill="#008000"/>
<circle cx="1550" cy="307" r="3.05" fill="#008000"/>
<circle cx="1560" cy="307" r="3.05" fill="#008000"/>
<circle cx="1570" cy="307" r="3.05" fill="#008000"/>
<circle cx="1580" cy="307" r="3.05" fill="#008000"/>
<circle cx="1590" cy="307" r="3.05" fill="#008000"/>
<circle cx="1600" cy="399" r="3.05" fill="#008000"/>
<circle cx="1610" cy="399" r="3.05" fill="#008000"/>
<circle cx="1620" cy="399" r="3.05" fill="#008000"/>
<circle cx="1630" cy="399" r="3.05" fill="#008000"/>
<circle cx="1640" cy="399" r="3.05" fill="#008000"/>
<circle cx="1650" cy="399" r="3.05" fill="#008000"/>
<circle cx="1660" cy="399" r="3.05" fill="#008000"/>
<circle cx="1670" cy="366" r="3.05" fill="#008000"/>
<circle cx="1680" cy="366" r="3.05" fill="#008000"/>
<circle cx="1690" cy="366" r="3.05" fill="#008000"/>
<circle cx="1700" cy="366" r="3.05" fill="#008000"/>
<circle cx="10" cy="466" r="3.05" fill="#ffa500"/>
<circle cx="20" cy="466" r="3.05" fill="#ffa500"/>
<circle cx="30" cy="466" r="3.05" fill="#ffa500"/>
<circle cx="40" cy="441" r="3.05" fill="#ffa500"/>
<circle cx="50" cy="441" r="3.05" fill="#ffa500"/>
<circle cx="60" cy="441" r="3.05" fill="#ffa500"/>
<circle cx="70" cy="441" r="3.05" fill="#ffa500"/>
<circle cx="80" cy="441" r="3.05" fill="#ffa500"/>
<circle cx="90" cy="441" r="3.05" fill="#ffa500"/>
<circle cx="100" cy="441" r="3.05" fill="#ffa500"/>
<circle cx="110" cy="441" r="3.05" fill="#ffa500"/>
<circle cx="120" cy="441" r="3.05" fill="#ffa500"/>
<circle cx="130" cy="441" r="3.05" fill="#ffa500"/>
<circle cx="160" cy="474" r="3.05" fill="#ffa500"/>
<circle cx="170" cy="474" r="3.05" fill="#ffa500"/>
<circle cx="180" cy="474" r="3.05" fill="#ffa500"/>
<circle cx="190" cy="499" r="3.05" fill="#ffa500"/>
<circle cx="200" cy="499" r="3.05" fill="#ffa500"/>
<circle cx="210" cy="499" r="3.05" fill="#ffa500"/>
<circle cx="220" cy="499" r="3.05" fill="#ffa500"/>
<circle cx="230" cy="482" r="3.05" fill="#ffa500"/>
<circle cx="240" cy="482" r="3.05" fill="#ffa500"/>
<circle cx="250" cy="482" r="3.05" fill="#ffa500"/>
<circle cx="260" cy="482" r="3.05" fill="#ffa500"/>
<circle cx="270" cy="482" r="3.05" fill="#ffa500"/>
<circle cx="280" cy="482" r="3.05" fill="#ffa500"/>
<circle cx="290" cy="474" r="3.05" fill="#ffa500"/>
<circle cx="300" cy="474" r="3.05" fill="#ffa500"/>
<circle cx="310" cy="491" r="3.05" fill="#ffa500"/>
<circle cx="320" cy="491" r="3.05" fill="#ffa500"/>
<circle cx="340" cy="532" r="3.05" fill="#ffa500"/>
<circle cx="350" cy="532" r="3.05" fill="#ffa500"/>
<circle cx="360" cy="532" r="3.05" fill="#ffa500"/>
<circle cx="370" cy="532" r="3.05" fill="#ffa500"/>
<circle cx="380" cy="532" r="3.05" fill="#ffa500"/>
<circle cx="390" cy="582" r="3.05" fill="#ffa500"/>
<circle cx="400" cy="582" r="3.05" fill="#ffa500"/>
<circle cx="410" cy="582" r="3.05" fill="#ffa500"/>
<circle cx="420" cy="566" r="3.05" fill="#ffa500"/>
<circle cx="430" cy="566" r="3.05" fill="#ffa500"/>
<circle cx="440" cy="566" r="3.05" fill="#ffa500"/>
<circle cx="450" cy="566" r="3.05" fill="#ffa500"/>
<circle cx="460" cy="566" r="3.05" fill="#ffa500"/>
<circle cx="470" cy="566" r="3.05" fill="#ffa500"/>
<circle cx="480" cy="582" r="3.05" fill="#ffa500"/>
<circle cx="490" cy="582" r="3.05" fill="#ffa500"/>
<circle cx="500" cy="582" r="3.05" fill="#ffa500"/>
<circle cx="510" cy="582" r="3.05" fill="#ffa500"/>
<circle cx="520" cy="582" r="3.05" fill="#ffa500"/>
<circle cx="530" cy="541" r="3.05" fill="#ffa500"/>
<circle cx="540" cy="541" r="3.05" fill="#ffa500"/>
<circle cx="550" cy="541" r="3.05" fill="#ffa500"/>
<circle cx="560" cy="541" r="3.05" fill="#ffa500"/>
<circle cx="570" cy="541" r="3.05" fill="#ffa500"/>
<circle cx="580" cy="557" r="3.05" fill="#ffa500"/>
<circle cx="590" cy="557" r="3.05" fill="#ffa500"/>
<circle cx="600" cy="557" r="3.05" fill="#ffa500"/>
<circle cx="610" cy="557" r="3.05" fill="#ffa500"/>
<circle cx="620" cy="557" r="3.05" fill="#ffa500"/>
<circle cx="630" cy="557" r="3.05" fill="#ffa500"/>
<circle cx="640" cy="591" r="3.05" fill="#ffa500"/>
<circle cx="650" cy="591" r="3.05" fill="#ffa500"/>
<circle cx="660" cy="591" r="3.05" fill="#ffa500"/>
<circle cx="670" cy="591" r="3.05" fill="#ffa500"/>
<circle cx="680" cy="532" r="3.05" fill="#ffa500"/>
<circle cx="690" cy="532" r="3.05" fill="#ffa500"/>
<circle cx="700" cy="532" r="3.05" fill="#ffa500"/>
<circle cx="710" cy="491" r="3.05" fill="#ffa500"/>
<circle cx="720" cy="491" r="3.05" fill="#ffa500"/>
<circle cx="730" cy="491" r="3.05" fill="#ffa500"/>
<circle cx="740" cy="491" r="3.05" fill="#ffa500"/>
<circle cx="750" cy="491" r="3.05" fill="#ffa500"/>
<circle cx="760" cy="432" r="3.05" fill="#ffa500"/>
<circle cx="770" cy="432" r="3.05" fill="#ffa500"/>
<circle cx="790" cy="474" r="3.05" fill="#ffa500"/>
<circle cx="800" cy="474" r="3.05" fill="#ffa500"/>
<circle cx="810" cy="474" r="3.05" fill="#ffa500"/>
<circle cx="820" cy="482" r="3.05" fill="#ffa500"/>
<circle cx="830" cy="482" r="3.05" fill="#ffa500"/>
<circle cx="840" cy="482" r="3.05" fill="#ffa500"/>
<circle cx="850" cy="482" r="3.05" fill="#ffa500"/>
<circle cx="860" cy="449" r="3.05" fill="#ffa500"/>
<circle cx="870" cy="449" r="3.05" fill="#ffa500"/>
<circle cx="880" cy="432" r="3.05" fill="#ffa500"/>
<circle cx="890" cy="432" r="3.05" fill="#ffa500"/>
<circle cx="900" cy="432" r="3.05" fill="#ffa500"/>
<circle cx="910" cy="432" r="3.05" fill="#ffa500"/>
<circle cx="930" cy="507" r="3.05" fill="#ffa500"/>
<circle cx="940" cy="507" r="3.05" fill="#ffa500"/>
<circle cx="950" cy="507" r="3.05" fill="#ffa500"/>
<circle cx="960" cy="482" r="3.05" fill="#ffa500"/>
<circle cx="970" cy="482" r="3.05" fill="#ffa500"/>
<circle cx="990" cy="541" r="3.05" fill="#ffa500"/>
<circle cx="1000" cy="541" r="3.05" fill="#ffa500"/>
<circle cx="1010" cy="499" r="3.05" fill="#ffa500"/>
<circle cx="1020" cy="499" r="3.05" fill="#ffa500"/>
<circle cx="1030" cy="499" r="3.05" fill="#ffa500"/>
<circle cx="1040" cy="499" r="3.05" fill="#ffa500"/>
<circle cx="1050" cy="499" r="3.05" fill="#ffa500"/>
<circle cx="1060" cy="499" r="3.05" fill="#ffa500"/>
<circle cx="1070" cy="499" r="3.05" fill="#ffa500"/>
<circle cx="1080" cy="499" r="3.05" fill="#ffa500"/>
<circle cx="1090" cy="441" r="3.05" fill="#ffa500"/>
<circle cx="1100" cy="441" r="3.05" fill="#ffa500"/>
<circle cx="1110" cy="441" r="3.05" fill="#ffa500"/>
<circle cx="1120" cy="432" r="3.05" fill="#ffa500"/>
<circle cx="1130" cy="432" r="3.05" fill="#ffa500"/>
<circle cx="1140" cy="432" r="3.05" fill="#ffa500"/>
<circle cx="1150" cy="432" r="3.05" fill="#ffa500"/>
<circle cx="1160" cy="432" r="3.05" fill="#ffa500"/>
<circle cx="1170" cy="432" r="3.05" fill="#ffa500"/>
<circle cx="1180" cy="432" r="3.05" fill="#ffa500"/>
<circle cx="1190" cy="332" r="3.05" fill="#ffa500"/>
<circle cx="1200" cy="332" r="3.05" fill="#ffa500"/>
<circle cx="1210" cy="332" r="3.05" fill="#ffa500"/>
<circle cx="1220" cy="332" r="3.05" fill="#ffa500"/>
<circle cx="1230" cy="332" r="3.05" fill="#ffa500"/>
<circle cx="1240" cy="332" r="3.05" fill="#ffa500"/>
<circle cx="1250" cy="257" r="3.05" fill="#ffa500"/>
<circle cx="1260" cy="257" r="3.05" fill="#ffa500"/>
<circle cx="1270" cy="257" r="3.05" fill="#ffa500"/>
<circle cx="1280" cy="257" r="3.05" fill="#ffa500"/>
<circle cx="1290" cy="257" r="3.05" fill="#ffa500"/>
<circle cx="1300" cy="257" r="3.05" fill="#ffa500"/>
<circle cx="1310" cy="257" r="3.05" fill="#ffa500"/>
<circle cx="1320" cy="257" r="3.05" fill="#ffa500"/>
<circle cx="1330" cy="257" r="3.05" fill="#ffa500"/>
<circle cx="1340" cy="257" r="3.05" fill="#ffa500"/>
<circle cx="1350" cy="257" r="3.05" fill="#ffa500"/>
<circle cx="1360" cy="207" r="3.05" fill="#ffa500"/>
<circle cx="1370" cy="207" r="3.05" fill="#ffa500"/>
<circle cx="1380" cy="199" r="3.05" fill="#ffa500"/>
<circle cx="1390" cy="199" r="3.05" fill="#ffa500"/>
<circle cx="1400" cy="199" r="3.05" fill="#ffa500"/>
<circle cx="1410" cy="199" r="3.05" fill="#ffa500"/>
<circle cx="1440" cy="257" r="3.05" fill="#ffa500"/>
<circle cx="1450" cy="257" r="3.05" fill="#ffa500"/>
<circle cx="1460" cy="257" r="3.05" fill="#ffa500"/>
<circle cx="1470" cy="257" r="3.05" fill="#ffa500"/>
<circle cx="1480" cy="257" r="3.05" fill="#ffa500"/>
<circle cx="1490" cy="257" r="3.05" fill="#ffa500"/>
<circle cx="1500" cy="266" r="3.05" fill="#ffa500"/>
<circle cx="1510" cy="266" r="3.05" fill="#ffa500"/>
<circle cx="1530" cy="374" r="3.05" fill="#ffa500"/>
<circle cx="1540" cy="374" r="3.05" fill="#ffa500"/>
<circle cx="1550" cy="374" r="3.05" fill="#ffa500"/>
<circle cx="1560" cy="374" r="3.05" fill="#ffa500"/>
<circle cx="1580" cy="466" r="3.05" fill="#ffa500"/>
<circle cx="1590" cy="466" r="3.05" fill="#ffa500"/>
<circle cx="1600" cy="466" r="3.05" fill="#ffa500"/>
<circle cx="1610" cy="466" r="3.05" fill="#ffa500"/>
<circle cx="1620" cy="466" r="3.05" fill="#ffa500"/>
<circle cx="1630" cy="457" r="3.05" fill="#ffa500"/>
<circle cx="1640" cy="457" r="3.05" fill="#ffa500"/>
<circle cx="1650" cy="457" r="3.05" fill="#ffa500"/>
<circle cx="1660" cy="457" r="3.05" fill="#ffa500"/>
<circle cx="1670" cy="457" r="3.05" fill="#ffa500"/>
<circle cx="1680" cy="441" r="3.05" fill="#ffa500"/>
<circle cx="1690" cy="441" r="3.05" fill="#ffa500"/>
<circle cx="1700" cy="441" r="3.05" fill="#ffa500"/>
<path d="M1169.5,321.8 l4.8,5.2 h-2.6 v9.3 h-4.4 v-9.3 h-2.6 z" fill="#0000ff"/>
<path d="M1279.5,204.6 l4.8,5.2 h-2.6 v9.3 h-4.4 v-9.3 h-2.6 z" fill="#0000ff"/>
<path d="M1669.5,404.5 l4.8,5.2 h-2.6 v9.3 h-4.4 v-9.3 h-2.6 z" fill="#0000ff"/>
<path d="M1497.2,220 h4.6 v10.3 h2.8 l-5.1,5.7 l-5.1,-5.7 h2.8 z" fill="#ff00ff"/>
<path d="M1494.3,261.7 L1499.6,266.7 L1494.3,271.7 z M1504.9,261.7 L1499.6,266.7 L1504.9,271.7 z" fill="#ff00ff"/>
<path d="M1164.5,253.3 L1169.6,257.6 L1164.5,261.9 z" fill="#0000ff"/>
<path d="M1274.5,119.9 L1279.6,124.2 L1274.5,128.5 z" fill="#0000ff"/>
<path d="M1674.8,386.9 L1669.4,391.4 L1674.8,395.9 z" fill="#0000ff"/>
<rect x="581" y="126" width="312" height="76" fill="#00326e"/>
<g font-family="Liberation Sans, Arial, sans-serif" font-size="12.6" fill="#ffff00">
<text x="584" y="142" textLength="252" lengthAdjust="spacingAndGlyphs">Dnes dva vstupy do trendu a jeden  proti.</text>
<text x="584" y="160" textLength="298" lengthAdjust="spacingAndGlyphs">Výsledek -30 USD. Pouze první vstup bych bral se</text>
<text x="584" y="178" textLength="70" lengthAdjust="spacingAndGlyphs">S/R filtrem.</text>
</g>
<g shape-rendering="crispEdges">
<rect x="28" y="803" width="3" height="2" fill="#008000"/>
<rect x="48" y="803" width="3" height="2" fill="#008000"/>
<rect x="68" y="803" width="3" height="2" fill="#008000"/>
<rect x="88" y="803" width="3" height="2" fill="#008000"/>
<rect x="108" y="803" width="3" height="2" fill="#008000"/>
<rect x="118" y="803" width="3" height="2" fill="#008000"/>
<rect x="158" y="802" width="3" height="3" fill="#008000"/>
<rect x="168" y="801" width="3" height="4" fill="#008000"/>
<rect x="188" y="796" width="3" height="9" fill="#008000"/>
<rect x="208" y="802" width="3" height="3" fill="#008000"/>
<rect x="238" y="803" width="3" height="2" fill="#008000"/>
<rect x="258" y="803" width="3" height="2" fill="#008000"/>
<rect x="348" y="802" width="3" height="3" fill="#999999"/>
<rect x="388" y="801" width="3" height="4" fill="#999999"/>
<rect x="438" y="803" width="3" height="2" fill="#999999"/>
<rect x="488" y="802" width="3" height="3" fill="#999999"/>
<rect x="538" y="801" width="3" height="4" fill="#999999"/>
<rect x="548" y="788" width="3" height="17" fill="#999999"/>
<rect x="558" y="790" width="3" height="15" fill="#999999"/>
<rect x="568" y="794" width="3" height="11" fill="#999999"/>
<rect x="578" y="801" width="3" height="4" fill="#999999"/>
<rect x="588" y="795" width="3" height="10" fill="#999999"/>
<rect x="598" y="803" width="3" height="2" fill="#999999"/>
<rect x="608" y="803" width="3" height="2" fill="#999999"/>
<rect x="618" y="795" width="3" height="10" fill="#999999"/>
<rect x="628" y="791" width="3" height="14" fill="#999999"/>
<rect x="638" y="785" width="3" height="20" fill="#999999"/>
<rect x="648" y="799" width="3" height="6" fill="#999999"/>
<rect x="658" y="801" width="3" height="4" fill="#999999"/>
<rect x="668" y="803" width="3" height="2" fill="#999999"/>
<rect x="678" y="796" width="3" height="9" fill="#999999"/>
<rect x="688" y="789" width="3" height="16" fill="#999999"/>
<rect x="698" y="801" width="3" height="4" fill="#999999"/>
<rect x="708" y="800" width="3" height="5" fill="#999999"/>
<rect x="718" y="799" width="3" height="6" fill="#999999"/>
<rect x="728" y="797" width="3" height="8" fill="#999999"/>
<rect x="738" y="803" width="3" height="2" fill="#999999"/>
<rect x="748" y="800" width="3" height="5" fill="#999999"/>
<rect x="758" y="798" width="3" height="7" fill="#008000"/>
<rect x="778" y="801" width="3" height="4" fill="#008000"/>
<rect x="788" y="803" width="3" height="2" fill="#008000"/>
<rect x="798" y="803" width="3" height="2" fill="#008000"/>
<rect x="808" y="800" width="3" height="5" fill="#008000"/>
<rect x="818" y="803" width="3" height="2" fill="#008000"/>
<rect x="828" y="798" width="3" height="7" fill="#008000"/>
<rect x="838" y="798" width="3" height="7" fill="#008000"/>
<rect x="848" y="799" width="3" height="6" fill="#008000"/>
<rect x="858" y="801" width="3" height="4" fill="#008000"/>
<rect x="868" y="802" width="3" height="3" fill="#008000"/>
<rect x="878" y="800" width="3" height="5" fill="#008000"/>
<rect x="888" y="801" width="3" height="4" fill="#008000"/>
<rect x="898" y="797" width="3" height="8" fill="#008000"/>
<rect x="908" y="801" width="3" height="4" fill="#008000"/>
<rect x="918" y="784" width="3" height="21" fill="#008000"/>
<rect x="928" y="642" width="3" height="163" fill="#999999"/>
<rect x="938" y="688" width="3" height="117" fill="#999999"/>
<rect x="948" y="722" width="3" height="83" fill="#999999"/>
<rect x="958" y="751" width="3" height="54" fill="#999999"/>
<rect x="968" y="791" width="3" height="14" fill="#999999"/>
<rect x="978" y="775" width="3" height="30" fill="#999999"/>
<rect x="988" y="769" width="3" height="36" fill="#999999"/>
<rect x="998" y="774" width="3" height="31" fill="#999999"/>
<rect x="1008" y="777" width="3" height="28" fill="#999999"/>
<rect x="1018" y="774" width="3" height="31" fill="#999999"/>
<rect x="1028" y="781" width="3" height="24" fill="#999999"/>
<rect x="1038" y="763" width="3" height="42" fill="#999999"/>
<rect x="1048" y="780" width="3" height="25" fill="#999999"/>
<rect x="1058" y="781" width="3" height="24" fill="#999999"/>
<rect x="1068" y="781" width="3" height="24" fill="#999999"/>
<rect x="1078" y="775" width="3" height="30" fill="#999999"/>
<rect x="1088" y="774" width="3" height="31" fill="#008000"/>
<rect x="1098" y="765" width="3" height="40" fill="#008000"/>
<rect x="1108" y="762" width="3" height="43" fill="#008000"/>
<rect x="1118" y="781" width="3" height="24" fill="#008000"/>
<rect x="1128" y="790" width="3" height="15" fill="#008000"/>
<rect x="1138" y="788" width="3" height="17" fill="#008000"/>
<rect x="1148" y="778" width="3" height="27" fill="#008000"/>
<rect x="1158" y="781" width="3" height="24" fill="#008000"/>
<rect x="1168" y="732" width="3" height="73" fill="#008000"/>
<rect x="1178" y="777" width="3" height="28" fill="#008000"/>
<rect x="1188" y="792" width="3" height="13" fill="#008000"/>
<rect x="1198" y="781" width="3" height="24" fill="#008000"/>
<rect x="1208" y="718" width="3" height="87" fill="#008000"/>
<rect x="1218" y="777" width="3" height="28" fill="#008000"/>
<rect x="1228" y="770" width="3" height="35" fill="#008000"/>
<rect x="1238" y="785" width="3" height="20" fill="#008000"/>
<rect x="1248" y="778" width="3" height="27" fill="#008000"/>
<rect x="1258" y="765" width="3" height="40" fill="#008000"/>
<rect x="1268" y="786" width="3" height="19" fill="#008000"/>
<rect x="1278" y="754" width="3" height="51" fill="#008000"/>
<rect x="1288" y="791" width="3" height="14" fill="#008000"/>
<rect x="1298" y="775" width="3" height="30" fill="#008000"/>
<rect x="1308" y="791" width="3" height="14" fill="#008000"/>
<rect x="1318" y="791" width="3" height="14" fill="#008000"/>
<rect x="1328" y="789" width="3" height="16" fill="#008000"/>
<rect x="1338" y="782" width="3" height="23" fill="#008000"/>
<rect x="1348" y="781" width="3" height="24" fill="#008000"/>
<rect x="1358" y="781" width="3" height="24" fill="#008000"/>
<rect x="1368" y="786" width="3" height="19" fill="#008000"/>
<rect x="1378" y="798" width="3" height="7" fill="#008000"/>
<rect x="1388" y="797" width="3" height="8" fill="#008000"/>
<rect x="1398" y="799" width="3" height="6" fill="#008000"/>
<rect x="1408" y="795" width="3" height="10" fill="#008000"/>
<rect x="1418" y="797" width="3" height="8" fill="#008000"/>
<rect x="1428" y="787" width="3" height="18" fill="#008000"/>
<rect x="1438" y="798" width="3" height="7" fill="#008000"/>
<rect x="1448" y="797" width="3" height="8" fill="#008000"/>
<rect x="1458" y="796" width="3" height="9" fill="#008000"/>
<rect x="1468" y="793" width="3" height="12" fill="#008000"/>
<rect x="1478" y="796" width="3" height="9" fill="#008000"/>
<rect x="1488" y="797" width="3" height="8" fill="#008000"/>
<rect x="1498" y="794" width="3" height="11" fill="#008000"/>
<rect x="1508" y="797" width="3" height="8" fill="#008000"/>
<rect x="1518" y="771" width="3" height="34" fill="#008000"/>
<rect x="1528" y="745" width="3" height="60" fill="#008000"/>
<rect x="1538" y="795" width="3" height="10" fill="#008000"/>
<rect x="1548" y="787" width="3" height="18" fill="#008000"/>
<rect x="1558" y="796" width="3" height="9" fill="#008000"/>
<rect x="1568" y="771" width="3" height="34" fill="#999999"/>
<rect x="1578" y="795" width="3" height="10" fill="#999999"/>
<rect x="1588" y="792" width="3" height="13" fill="#999999"/>
<rect x="1598" y="787" width="3" height="18" fill="#999999"/>
<rect x="1608" y="794" width="3" height="11" fill="#999999"/>
<rect x="1618" y="800" width="3" height="5" fill="#999999"/>
<rect x="1628" y="790" width="3" height="15" fill="#999999"/>
<rect x="1638" y="800" width="3" height="5" fill="#999999"/>
<rect x="1648" y="797" width="3" height="8" fill="#999999"/>
<rect x="1658" y="799" width="3" height="6" fill="#999999"/>
<rect x="1668" y="790" width="3" height="15" fill="#999999"/>
<rect x="1678" y="796" width="3" height="9" fill="#999999"/>
<rect x="1688" y="789" width="3" height="16" fill="#999999"/>
<rect x="1698" y="794" width="3" height="11" fill="#999999"/>
</g>
<polyline points="9.5,804.5 180.0,804.5 189.5,802.8 199.5,804.0 300.0,804.3 460.0,804.3 535.2,804.3 549.5,801.8 569.6,799.3 590.4,799.3 609.5,800.6 629.5,798.6 639.6,796.6 659.6,797.6 679.4,798.1 689.5,797.1 719.6,798.6 749.4,799.1 779.5,799.6 819.6,801.1 829.7,800.1 899.6,800.1 900.0,800.1 909.5,800.6 919.6,798.6 929.6,776.0 939.6,764.2 949.4,760.4 956.4,758.4 959.4,758.7 969.5,762.9 989.5,765.0 1009.6,768.0 1029.4,770.5 1039.4,769.5 1049.5,771.5 1069.5,773.0 1089.6,773.0 1099.6,772.0 1109.7,771.2 1119.4,772.5 1129.5,775.0 1149.5,777.0 1159.6,777.0 1169.6,771.2 1179.6,772.5 1189.4,775.5 1199.4,775.5 1209.5,768.5 1219.5,769.5 1229.5,769.5 1239.6,771.2 1249.6,772.2 1259.6,771.2 1269.7,773.2 1279.4,771.7 1289.5,773.2 1299.5,774.5 1319.6,778.0 1339.6,780.0 1340.0,780.5 1359.6,780.0 1369.6,781.5 1389.4,785.5 1409.5,788.5 1429.5,789.5 1449.6,791.5 1459.6,792.5 1479.4,792.5 1489.5,793.3 1499.5,793.3 1509.5,794.3 1519.6,791.8 1529.6,785.5 1539.6,786.3 1549.7,786.3 1559.4,787.3 1569.5,785.5 1579.5,786.5 1599.6,787.5 1619.6,790.0 1629.4,790.5 1649.5,792.5 1659.5,793.5 1679.6,793.5 1689.6,792.5 1699.6,794.0" fill="none" stroke="#ff8a14" stroke-width="1.25"/>
<g shape-rendering="crispEdges" opacity="0.8"><rect x="8" y="804" width="3" height="1" fill="#008000"/><rect x="18" y="804" width="3" height="1" fill="#008000"/><rect x="38" y="804" width="3" height="1" fill="#008000"/><rect x="58" y="804" width="3" height="1" fill="#008000"/><rect x="78" y="804" width="3" height="1" fill="#008000"/><rect x="98" y="804" width="3" height="1" fill="#008000"/><rect x="128" y="804" width="3" height="1" fill="#008000"/><rect x="138" y="804" width="3" height="1" fill="#008000"/><rect x="148" y="804" width="3" height="1" fill="#008000"/><rect x="178" y="804" width="3" height="1" fill="#008000"/><rect x="198" y="804" width="3" height="1" fill="#008000"/><rect x="228" y="804" width="3" height="1" fill="#008000"/><rect x="248" y="804" width="3" height="1" fill="#008000"/><rect x="268" y="804" width="3" height="1" fill="#008000"/><rect x="278" y="804" width="3" height="1" fill="#008000"/><rect x="288" y="804" width="3" height="1" fill="#008000"/><rect x="298" y="804" width="3" height="1" fill="#008000"/><rect x="338" y="804" width="3" height="1" fill="#999999"/><rect x="358" y="804" width="3" height="1" fill="#999999"/><rect x="398" y="804" width="3" height="1" fill="#999999"/><rect x="408" y="804" width="3" height="1" fill="#999999"/><rect x="428" y="804" width="3" height="1" fill="#999999"/><rect x="448" y="804" width="3" height="1" fill="#999999"/><rect x="768" y="804" width="3" height="1" fill="#008000"/></g>
<g shape-rendering="crispEdges"><rect x="9" y="978" width="1691" height="1" fill="#1f8f1f"/></g>
<g shape-rendering="crispEdges" fill="#000">
<rect x="0" y="627" width="1914" height="1"/>
<rect x="0" y="820" width="1914" height="1"/>
<rect x="1" y="989" width="1866" height="1"/>
<rect x="1866" y="52" width="1" height="938"/>
<rect x="1867" y="66" width="6" height="1"/>
<rect x="1867" y="107" width="6" height="1"/>
<rect x="1867" y="149" width="6" height="1"/>
<rect x="1867" y="191" width="6" height="1"/>
<rect x="1867" y="232" width="6" height="1"/>
<rect x="1867" y="274" width="6" height="1"/>
<rect x="1867" y="316" width="6" height="1"/>
<rect x="1867" y="357" width="6" height="1"/>
<rect x="1867" y="399" width="6" height="1"/>
<rect x="1867" y="441" width="6" height="1"/>
<rect x="1867" y="482" width="6" height="1"/>
<rect x="1867" y="524" width="6" height="1"/>
<rect x="1867" y="566" width="6" height="1"/>
<rect x="1867" y="607" width="6" height="1"/>
<rect x="1867" y="640" width="6" height="1"/>
<rect x="1867" y="673" width="6" height="1"/>
<rect x="1867" y="706" width="6" height="1"/>
<rect x="1867" y="739" width="6" height="1"/>
<rect x="1867" y="772" width="6" height="1"/>
<rect x="39" y="990" width="1" height="6"/>
<rect x="114" y="990" width="1" height="6"/>
<rect x="189" y="990" width="1" height="6"/>
<rect x="264" y="990" width="1" height="6"/>
<rect x="324" y="990" width="1" height="6"/>
<rect x="394" y="990" width="1" height="6"/>
<rect x="469" y="990" width="1" height="6"/>
<rect x="544" y="990" width="1" height="6"/>
<rect x="619" y="990" width="1" height="6"/>
<rect x="694" y="990" width="1" height="6"/>
<rect x="769" y="990" width="1" height="6"/>
<rect x="844" y="990" width="1" height="6"/>
<rect x="919" y="990" width="1" height="6"/>
<rect x="994" y="990" width="1" height="6"/>
<rect x="1069" y="990" width="1" height="6"/>
<rect x="1144" y="990" width="1" height="6"/>
<rect x="1219" y="990" width="1" height="6"/>
<rect x="1294" y="990" width="1" height="6"/>
<rect x="1369" y="990" width="1" height="6"/>
<rect x="1444" y="990" width="1" height="6"/>
<rect x="1519" y="990" width="1" height="6"/>
<rect x="1594" y="990" width="1" height="6"/>
<rect x="1669" y="990" width="1" height="6"/>
<rect x="1744" y="990" width="1" height="6"/>
<rect x="1819" y="990" width="1" height="6"/>
</g>
<g font-family="Liberation Sans, Arial, sans-serif" font-size="10.67" fill="#000" stroke="#000" stroke-width="0.22">
<text x="1874.5" y="71.1">1049,5</text>
<text x="1874.5" y="112.1">1049,0</text>
<text x="1874.5" y="154.1">1048,5</text>
<text x="1874.5" y="196.1">1048,0</text>
<text x="1874.5" y="237.1">1047,5</text>
<text x="1874.5" y="279.1">1047,0</text>
<text x="1874.5" y="321.1">1046,5</text>
<text x="1874.5" y="362.1">1046,0</text>
<text x="1874.5" y="404.1">1045,5</text>
<text x="1874.5" y="446.1">1045,0</text>
<text x="1874.5" y="487.1">1044,5</text>
<text x="1874.5" y="529.1">1044,0</text>
<text x="1874.5" y="571.1">1043,5</text>
<text x="1874.5" y="612.1">1043,0</text>
<text x="1874.5" y="645.1">2500</text>
<text x="1874.5" y="678.1">2000</text>
<text x="1874.5" y="711.1">1500</text>
<text x="1874.5" y="744.1">1000</text>
<text x="1874.5" y="777.1">500</text>
<text x="39.5" y="1005.8" text-anchor="middle">12:30</text>
<text x="114.5" y="1005.8" text-anchor="middle">12:45</text>
<text x="189.5" y="1005.8" text-anchor="middle">13:00</text>
<text x="264.5" y="1005.8" text-anchor="middle">13:15</text>
<text x="324.5" y="1005.8" text-anchor="middle">13:30</text>
<text x="394.5" y="1005.8" text-anchor="middle">13:45</text>
<text x="469.5" y="1005.8" text-anchor="middle">14:00</text>
<text x="544.5" y="1005.8" text-anchor="middle">14:15</text>
<text x="619.5" y="1005.8" text-anchor="middle">14:30</text>
<text x="694.5" y="1005.8" text-anchor="middle">14:45</text>
<text x="769.5" y="1005.8" text-anchor="middle">15:00</text>
<text x="844.5" y="1005.8" text-anchor="middle">15:15</text>
<text x="919.5" y="1005.8" text-anchor="middle">15:30</text>
<text x="994.5" y="1005.8" text-anchor="middle">15:45</text>
<text x="1069.5" y="1005.8" text-anchor="middle">16:00</text>
<text x="1144.5" y="1005.8" text-anchor="middle">16:15</text>
<text x="1219.5" y="1005.8" text-anchor="middle">16:30</text>
<text x="1294.5" y="1005.8" text-anchor="middle">16:45</text>
<text x="1369.5" y="1005.8" text-anchor="middle">17:00</text>
<text x="1444.5" y="1005.8" text-anchor="middle">17:15</text>
<text x="1519.5" y="1005.8" text-anchor="middle">17:30</text>
<text x="1594.5" y="1005.8" text-anchor="middle">17:45</text>
<text x="1669.5" y="1005.8" text-anchor="middle">18:00</text>
<text x="1744.5" y="1005.8" text-anchor="middle">18:15</text>
<text x="1819.5" y="1005.8" text-anchor="middle">18:30</text>
<text x="3" y="62.5" textLength="584" lengthAdjust="spacing">Swing(TF 09-13 (2 Min),1), CurrentDayOHL(TF 09-13 (2 Min)), BarTimer(TF 09-13 (2 Min)), EMA(TF 09-13 (2 Min),200)</text>
<text x="3" y="648.5" textLength="367" lengthAdjust="spacing">TrendVolume(TF 09-13 (2 Min),20,8,15,200), VOLMA(TF 09-13 (2 Min),14)</text>
<text x="3" y="841.5" textLength="172" lengthAdjust="spacing">BuySellPressure(TF 09-13 (2 Min))</text>
<text x="3" y="986.7" textLength="124" lengthAdjust="spacing">© 2013 NinjaTrader, LLC</text>
<text x="1716.5" y="615.6" textLength="134" lengthAdjust="spacing">Time remaining = 00:01:51</text>
</g>
<path d="M1866.5,82 L1873.5,75.4 H1910 V88.6 H1873.5 z" fill="#008000" stroke="#0b4d0b" stroke-width="0.8"/>
<text x="1875" y="86" font-family="Liberation Sans, Arial, sans-serif" font-size="10.67" fill="#fff">1049,3</text>
<path d="M1866.5,394 L1873.5,387.4 H1910 V400.6 H1873.5 z" fill="#ffa500" stroke="#000" stroke-width="0.8"/>
<text x="1875" y="397" font-family="Liberation Sans, Arial, sans-serif" font-size="10.67" fill="#000">1045,6</text>
<path d="M1866.5,399 L1873.5,392.4 H1910 V405.6 H1873.5 z" fill="#000000" stroke="#000" stroke-width="0.8"/>
<text x="1875" y="403" font-family="Liberation Sans, Arial, sans-serif" font-size="10.67" fill="#fff">1045,5</text>
<path d="M1866.5,793 L1873.5,786.5 H1909 V799.5 H1873.5 z" fill="#ff8c00" stroke="#000" stroke-width="0.8"/>
<text x="1877" y="797" font-family="Liberation Sans, Arial, sans-serif" font-size="10.67" fill="#000">185,16</text>
<path d="M1866.5,804.5 L1873,799 H1880 V810.5 H1873 z" fill="#a0a0a0" stroke="#222" stroke-width="0.8"/>
<text x="1874.5" y="808.5" font-family="Liberation Sans, Arial, sans-serif" font-size="10.67" fill="#000">4</text>
<path d="M1866.5,978 L1873.5,971.4 H1888 V984.6 H1873.5 z" fill="#ff0000" stroke="#8a0000" stroke-width="0.8"/>
<text x="1874.5" y="982" font-family="Liberation Sans, Arial, sans-serif" font-size="10.67" fill="#fff">50</text>
<path d="M1836.5,57.5 L1851.3,67.5 L1836.5,77.5 z" fill="none" stroke="#000" stroke-width="1.2"/>
<rect x="1853.5" y="57.5" width="3.2" height="20" fill="none" stroke="#000" stroke-width="1.1"/>
<rect x="0" y="1017" width="1914" height="17" fill="#ebebeb"/>
<rect x="0" y="1017" width="1914" height="1" fill="#f6f6f6"/>
<rect x="1888.5" y="1017.5" width="13" height="17" fill="url(#sbt)" stroke="#9a9a9a" stroke-width="1"/>
<path d="M10,1022.5 L6,1027 L10,1031.5 z" fill="#333"/>
<path d="M1909.5,1022.5 L1914,1027 L1909.5,1031.5 z" fill="#222"/>
<rect x="0" y="0" width="1914" height="21" fill="url(#tb)"/>
<rect x="0" y="0" width="1914" height="21" fill="url(#tbv)"/>
<g clip-path="url(#tclip)">
<rect x="-40" y="15" width="290" height="12" fill="#9cc4f0" opacity="0.8" filter="url(#blur2)"/>
<rect x="-40" y="-8" width="207" height="36" fill="#edf3fb" filter="url(#blur)"/>
<rect x="-40" y="-2" width="190" height="26" fill="#edf3fb" opacity="0.85" filter="url(#blur)"/>
<ellipse cx="1097" cy="22" rx="26" ry="18.5" fill="url(#glow)"/>
<ellipse cx="1179" cy="22" rx="26" ry="18.5" fill="url(#glow)"/>
<ellipse cx="1254" cy="22" rx="26" ry="18.5" fill="url(#glow)"/>
<ellipse cx="1331" cy="22" rx="26" ry="18.5" fill="url(#glow)"/>
<ellipse cx="1408" cy="22" rx="26" ry="18.5" fill="url(#glow)"/>
<ellipse cx="1560" cy="22" rx="26" ry="18.5" fill="url(#glow)"/>
</g>
<rect x="0" y="21" width="1914" height="1" fill="#2f4f78"/>
<rect x="1811" y="17" width="103" height="4" fill="#86b1e3" opacity="0.85"/>
<path d="M1814.5,0 V13 Q1814.5,17 1818.5,17 H1914 V0 z" fill="url(#btn)" stroke="#5d7ea8" stroke-width="1"/>
<line x1="1842.5" y1="0" x2="1842.5" y2="17" stroke="#6d8fb8"/><line x1="1869.5" y1="0" x2="1869.5" y2="17" stroke="#6d8fb8"/>
<rect x="1823.5" y="8.5" width="11" height="3.4" fill="#fff" stroke="#54627a" stroke-width="0.9"/>
<rect x="1852.5" y="3.5" width="8" height="7" fill="none" stroke="#54627a" stroke-width="2.6"/><rect x="1852.5" y="3.5" width="8" height="7" fill="none" stroke="#fff" stroke-width="1.2"/>
<rect x="1849.5" y="6" width="8" height="7" fill="#9dbde4" stroke="#54627a" stroke-width="2.6"/><rect x="1849.5" y="6" width="8" height="7" fill="#9dbde4" stroke="#fff" stroke-width="1.2"/>
<path d="M1889.6,4.6 L1897.2,11.8 M1897.2,4.6 L1889.6,11.8" stroke="#4b5870" stroke-width="3.9" stroke-linecap="square"/><path d="M1889.6,4.6 L1897.2,11.8 M1897.2,4.6 L1889.6,11.8" stroke="#fff" stroke-width="2.2" stroke-linecap="square"/>
<rect x="1778.5" y="-1" width="30" height="18" fill="#f1f1f1" stroke="#8fd6f0" stroke-width="1.2"/>
<text x="1794" y="12.2" font-family="Liberation Sans, Arial, sans-serif" font-size="11.3" fill="#111" text-anchor="middle">L</text>
<rect x="1.5" y="4.5" width="13" height="12" fill="#eef3f8" stroke="#7f8ea3" stroke-width="1"/>
<polyline points="2.5,13 5,9 7.5,11 10,7 13.5,9.5" fill="none" stroke="#1d44c8" stroke-width="1.3"/>
<polyline points="4,11 7,6.5 9.5,8.5 13.5,5.5" fill="none" stroke="#1a9a2a" stroke-width="1.3"/>
<text x="21" y="14.8" font-family="Liberation Sans, Arial, sans-serif" font-size="12" fill="#000" stroke="#000" stroke-width="0.2" textLength="144.5" lengthAdjust="spacing" xml:space="preserve">TF 09-13 (2 Min)  31.7.2013</text>
<rect x="0" y="22" width="1914" height="25" fill="url(#tool)"/>
<rect x="0" y="46" width="1914" height="1" fill="#f9f9f9"/>
<rect x="3" y="27" width="2" height="2" fill="#b9b9b9"/>
<rect x="3" y="31" width="2" height="2" fill="#b9b9b9"/>
<rect x="3" y="35" width="2" height="2" fill="#b9b9b9"/>
<rect x="3" y="39" width="2" height="2" fill="#b9b9b9"/>
<rect x="12" y="26" width="1" height="17" fill="#cfcfcf"/>
<rect x="133" y="26" width="1" height="17" fill="#cfcfcf"/>
<rect x="243" y="26" width="1" height="17" fill="#cfcfcf"/>
<rect x="301" y="26" width="1" height="17" fill="#cfcfcf"/>
<text x="21" y="37.6" font-family="Liberation Sans, Arial, sans-serif" font-size="12" fill="#000" stroke="#000" stroke-width="0.2" textLength="43.5" lengthAdjust="spacing">TF 09-13</text>
<text x="84.5" y="37.6" font-family="Liberation Sans, Arial, sans-serif" font-size="12" fill="#000" stroke="#000" stroke-width="0.2" textLength="30" lengthAdjust="spacing">2 Min</text>
<path d="M70.5,33 h6.4 l-3.2,3.4 z" fill="#111"/>
<path d="M120,33 h6.4 l-3.2,3.4 z" fill="#111"/>
<path d="M155.5,33 h6.4 l-3.2,3.4 z" fill="#111"/>
<path d="M184.5,33 h6.4 l-3.2,3.4 z" fill="#111"/>
<path d="M265.5,33 h6.4 l-3.2,3.4 z" fill="#111"/>
<rect x="140.2" y="27" width="1.2" height="14" fill="#222"/>
<rect x="139" y="29" width="3.6" height="10" rx="1.2" fill="#4fd23a" stroke="#1d6b12" stroke-width="0.6"/>
<rect x="145.39999999999998" y="27" width="1.2" height="14" fill="#222"/>
<rect x="144.2" y="29" width="3.6" height="10" rx="1.2" fill="#4fd23a" stroke="#1d6b12" stroke-width="0.6"/>
<rect x="150.6" y="27" width="1.2" height="14" fill="#222"/>
<rect x="149.4" y="29" width="3.6" height="10" rx="1.2" fill="#e8403a" stroke="#7a1511" stroke-width="0.6"/>
<path d="M168.5,40.5 l1.2,-3.6 l8.6,-9.6 l2.6,2.4 l-8.6,9.6 z" fill="#f5d93a" stroke="#8c7a1f" stroke-width="0.7"/>
<path d="M178.3,27.3 l1.4,-1.5 l2.6,2.4 l-1.4,1.5 z" fill="#e4574d"/>
<path d="M168.5,40.5 l1.2,-3.6 l2.4,2.3 z" fill="#7b6a58"/>
<line x1="202.1" y1="36.9" x2="198.1" y2="40.699999999999996" stroke="#4d545b" stroke-width="2" stroke-linecap="round"/>
<circle cx="204.7" cy="34.3" r="3.7" fill="#b4d6f3" stroke="#a9b4bf" stroke-width="1.3"/>
<circle cx="204.7" cy="34.3" r="2.2" fill="#6fb0ec"/>
<path d="M207,30.2 h6 M210,27.2 v6" stroke="#17a535" stroke-width="2.1"/>
<line x1="224.6" y1="36.6" x2="220.6" y2="40.4" stroke="#c4c4c4" stroke-width="2" stroke-linecap="round"/>
<circle cx="227.2" cy="34" r="3.7" fill="#dedede" stroke="#cfcfcf" stroke-width="1.3"/>
<circle cx="227.2" cy="34" r="2.2" fill="#d2d2d2"/>
<path d="M230.4,29.8 h5.2" stroke="#c9c9c9" stroke-width="1.7"/>
<path d="M255.9,27.2 v4.6 M255.9,35.8 v4.8 M249,33.8 h4.9 M257.9,33.8 h5" stroke="#000" stroke-width="2"/>
<rect x="280" y="26.5" width="12.8" height="14.7" fill="#f7f7f7" stroke="#7d7d7d" stroke-width="1"/>
<line x1="282.79999999999995" y1="37.4" x2="278.79999999999995" y2="41.199999999999996" stroke="#4d545b" stroke-width="2" stroke-linecap="round"/>
<circle cx="285.4" cy="34.8" r="3.7" fill="#a9cff0" stroke="#9aa7b4" stroke-width="1.3"/>
<circle cx="285.4" cy="34.8" r="2.2" fill="#5fa6ea"/>
<path d="M306.5,27 h6.5 l2,1.5 l-2,1.5 h-6.5 z M306.5,34 h6.5 l2,1.5 l-2,1.5 h-6.5 z" fill="#cfcfcf"/>
<path d="M316.5,28 h2.6 v8 h3 v5.2 h-5.6 z" fill="#d6d6d6" stroke="#c6c6c6" stroke-width="0.6"/>
<rect x="330.5" y="26.5" width="15" height="14.5" fill="#e2e2e2" stroke="#5a5a5a" stroke-width="1"/>
<rect x="333.5" y="29" width="1.2" height="11.5" fill="#222"/>
<rect x="332.3" y="31" width="3.6" height="7.5" rx="1.2" fill="#4fd23a" stroke="#1d6b12" stroke-width="0.6"/>
<rect x="337.9" y="27.5" width="1.2" height="10.5" fill="#222"/>
<rect x="336.7" y="29.5" width="3.6" height="6.5" rx="1.2" fill="#4fd23a" stroke="#1d6b12" stroke-width="0.6"/>
<rect x="342.4" y="30" width="1.2" height="10.5" fill="#222"/>
<rect x="341.2" y="32" width="3.6" height="6.5" rx="1.2" fill="#e8403a" stroke="#7a1511" stroke-width="0.6"/>
<rect x="353.5" y="26.5" width="15" height="14.5" fill="#d2d2d2" stroke="#6e6e6e" stroke-width="1"/>
<rect x="354.5" y="27.5" width="13" height="7" fill="#f1f1f1"/>
<polyline points="355,32.5 356.5,29.5 357.5,31.5 360.5,30 362.5,28 364.5,29 367.5,31.5" fill="none" stroke="#2a9c5f" stroke-width="0.9"/>
<polyline points="355,36.5 356.5,35 357.5,36.5 360,34.5 362.5,33.5 365,34.5 367.5,36.5" fill="none" stroke="#e63a52" stroke-width="0.9"/>
<path d="M378.5,27 h7.5 l3.5,3.5 v10.5 h-11 z" fill="#e9e9e9" stroke="#d4d4d4" stroke-width="1"/>
<text x="384.2" y="39" font-family="Liberation Sans, Arial, sans-serif" font-size="11" font-weight="bold" fill="#c2c2c2" text-anchor="middle">$</text>
<rect x="400.5" y="26.5" width="13" height="15" fill="#fbfbfe" stroke="#8a8fbd" stroke-width="1"/>
<rect x="402.2" y="28" width="9.8" height="2.7" fill="#6fa4e0"/>
<rect x="402.3" y="32.1" width="2.7" height="7.5" fill="#9a55ee"/>
<rect x="407.2" y="32.1" width="5" height="7.6" fill="#dde3f0"/>
</svg>
</body></html>
